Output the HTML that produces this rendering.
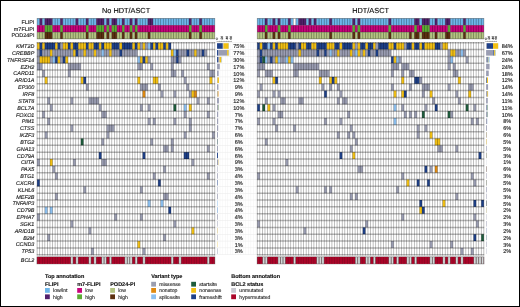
<!DOCTYPE html>
<html lang="en">
<head>
<meta charset="utf-8">
<title>Oncoprint: No HDT/ASCT vs HDT/ASCT</title>
<style>
html,body{margin:0;padding:0;background:#fff;}
#fig{position:relative;width:520px;height:307px;overflow:hidden;background:#fff;}
#fig svg{position:absolute;left:0;top:0;display:block;}
#fig text{font-family:"Liberation Sans",Arial,Helvetica,sans-serif;text-rendering:geometricPrecision;stroke:#222;stroke-width:0.14px;}
#frame{position:absolute;left:0;top:0;width:520px;height:307px;box-sizing:border-box;border:1px solid #000;pointer-events:none;}
</style>
</head>
<body>
<div id="fig">
<svg width="520" height="307" viewBox="0 0 520 307" role="img" aria-label="Oncoprint of gene mutations in No HDT/ASCT and HDT/ASCT cohorts">
<g>
<rect x="215.50" y="42.55" width="41.50" height="0.4" fill="#e4e4e4"/>
<rect x="215.50" y="49.39" width="41.50" height="0.4" fill="#e4e4e4"/>
<rect x="215.50" y="56.23" width="41.50" height="0.4" fill="#e4e4e4"/>
<rect x="215.50" y="63.06" width="41.50" height="0.4" fill="#e4e4e4"/>
<rect x="215.50" y="69.90" width="41.50" height="0.4" fill="#e4e4e4"/>
<rect x="215.50" y="76.74" width="41.50" height="0.4" fill="#e4e4e4"/>
<rect x="215.50" y="83.58" width="41.50" height="0.4" fill="#e4e4e4"/>
<rect x="215.50" y="90.42" width="41.50" height="0.4" fill="#e4e4e4"/>
<rect x="215.50" y="97.25" width="41.50" height="0.4" fill="#e4e4e4"/>
<rect x="215.50" y="104.09" width="41.50" height="0.4" fill="#e4e4e4"/>
<rect x="215.50" y="110.93" width="41.50" height="0.4" fill="#e4e4e4"/>
<rect x="215.50" y="117.77" width="41.50" height="0.4" fill="#e4e4e4"/>
<rect x="215.50" y="124.61" width="41.50" height="0.4" fill="#e4e4e4"/>
<rect x="215.50" y="131.44" width="41.50" height="0.4" fill="#e4e4e4"/>
<rect x="215.50" y="138.28" width="41.50" height="0.4" fill="#e4e4e4"/>
<rect x="215.50" y="145.12" width="41.50" height="0.4" fill="#e4e4e4"/>
<rect x="215.50" y="151.96" width="41.50" height="0.4" fill="#e4e4e4"/>
<rect x="215.50" y="158.80" width="41.50" height="0.4" fill="#e4e4e4"/>
<rect x="215.50" y="165.63" width="41.50" height="0.4" fill="#e4e4e4"/>
<rect x="215.50" y="172.47" width="41.50" height="0.4" fill="#e4e4e4"/>
<rect x="215.50" y="179.31" width="41.50" height="0.4" fill="#e4e4e4"/>
<rect x="215.50" y="186.15" width="41.50" height="0.4" fill="#e4e4e4"/>
<rect x="215.50" y="192.99" width="41.50" height="0.4" fill="#e4e4e4"/>
<rect x="215.50" y="199.82" width="41.50" height="0.4" fill="#e4e4e4"/>
<rect x="215.50" y="206.66" width="41.50" height="0.4" fill="#e4e4e4"/>
<rect x="215.50" y="213.50" width="41.50" height="0.4" fill="#e4e4e4"/>
<rect x="215.50" y="220.34" width="41.50" height="0.4" fill="#e4e4e4"/>
<rect x="215.50" y="227.18" width="41.50" height="0.4" fill="#e4e4e4"/>
<rect x="215.50" y="234.01" width="41.50" height="0.4" fill="#e4e4e4"/>
<rect x="215.50" y="240.85" width="41.50" height="0.4" fill="#e4e4e4"/>
<rect x="215.50" y="247.69" width="41.50" height="0.4" fill="#e4e4e4"/>
<rect x="215.50" y="254.53" width="41.50" height="0.4" fill="#e4e4e4"/>
<rect x="217.27" y="42.75" width="0.3" height="211.98" fill="#ececec"/>
<rect x="219.85" y="42.75" width="0.3" height="211.98" fill="#ececec"/>
<rect x="222.42" y="42.75" width="0.3" height="211.98" fill="#ececec"/>
<rect x="225.00" y="42.75" width="0.3" height="211.98" fill="#ececec"/>
<rect x="227.57" y="42.75" width="0.3" height="211.98" fill="#ececec"/>
<rect x="230.15" y="42.75" width="0.3" height="211.98" fill="#ececec"/>
<rect x="232.72" y="42.75" width="0.3" height="211.98" fill="#ececec"/>
<rect x="235.30" y="42.75" width="0.3" height="211.98" fill="#ececec"/>
<rect x="237.88" y="42.75" width="0.3" height="211.98" fill="#ececec"/>
<rect x="240.45" y="42.75" width="0.3" height="211.98" fill="#ececec"/>
<rect x="243.03" y="42.75" width="0.3" height="211.98" fill="#ececec"/>
<rect x="245.60" y="42.75" width="0.3" height="211.98" fill="#ececec"/>
<rect x="248.17" y="42.75" width="0.3" height="211.98" fill="#ececec"/>
<rect x="250.75" y="42.75" width="0.3" height="211.98" fill="#ececec"/>
<rect x="253.32" y="42.75" width="0.3" height="211.98" fill="#ececec"/>
<rect x="255.90" y="42.75" width="0.3" height="211.98" fill="#ececec"/>
<rect x="37.1" y="18.4" width="177.68" height="20.51" fill="#ffffff"/>
<rect x="37.1" y="18.4" width="2.58" height="6.84" fill="#6db6ea"/>
<rect x="39.68" y="18.4" width="2.58" height="6.84" fill="#52206c"/>
<rect x="42.25" y="18.4" width="2.58" height="6.84" fill="#6db6ea"/>
<rect x="44.83" y="18.4" width="7.73" height="6.84" fill="#52206c"/>
<rect x="52.55" y="18.4" width="7.73" height="6.84" fill="#6db6ea"/>
<rect x="60.28" y="18.4" width="2.58" height="6.84" fill="#52206c"/>
<rect x="62.85" y="18.4" width="12.88" height="6.84" fill="#6db6ea"/>
<rect x="75.72" y="18.4" width="2.58" height="6.84" fill="#52206c"/>
<rect x="78.3" y="18.4" width="7.73" height="6.84" fill="#6db6ea"/>
<rect x="86.03" y="18.4" width="2.58" height="6.84" fill="#52206c"/>
<rect x="88.6" y="18.4" width="7.73" height="6.84" fill="#6db6ea"/>
<rect x="96.33" y="18.4" width="7.73" height="6.84" fill="#52206c"/>
<rect x="104.05" y="18.4" width="2.58" height="6.84" fill="#6db6ea"/>
<rect x="106.62" y="18.4" width="2.58" height="6.84" fill="#52206c"/>
<rect x="109.2" y="18.4" width="2.58" height="6.84" fill="#6db6ea"/>
<rect x="111.78" y="18.4" width="5.15" height="6.84" fill="#52206c"/>
<rect x="116.93" y="18.4" width="5.15" height="6.84" fill="#6db6ea"/>
<rect x="122.08" y="18.4" width="2.58" height="6.84" fill="#52206c"/>
<rect x="124.65" y="18.4" width="5.15" height="6.84" fill="#6db6ea"/>
<rect x="129.8" y="18.4" width="2.58" height="6.84" fill="#52206c"/>
<rect x="132.38" y="18.4" width="2.58" height="6.84" fill="#6db6ea"/>
<rect x="134.95" y="18.4" width="2.58" height="6.84" fill="#52206c"/>
<rect x="137.53" y="18.4" width="10.3" height="6.84" fill="#6db6ea"/>
<rect x="147.83" y="18.4" width="5.15" height="6.84" fill="#52206c"/>
<rect x="152.98" y="18.4" width="36.05" height="6.84" fill="#6db6ea"/>
<rect x="189.03" y="18.4" width="2.58" height="6.84" fill="#52206c"/>
<rect x="191.6" y="18.4" width="7.73" height="6.84" fill="#6db6ea"/>
<rect x="199.33" y="18.4" width="2.58" height="6.84" fill="#52206c"/>
<rect x="201.9" y="18.4" width="12.88" height="6.84" fill="#6db6ea"/>
<rect x="37.1" y="25.24" width="7.73" height="6.84" fill="#c8047c"/>
<rect x="44.83" y="25.24" width="7.73" height="6.84" fill="#5cac34"/>
<rect x="52.55" y="25.24" width="7.73" height="6.84" fill="#c8047c"/>
<rect x="60.28" y="25.24" width="2.58" height="6.84" fill="#5cac34"/>
<rect x="62.85" y="25.24" width="23.18" height="6.84" fill="#c8047c"/>
<rect x="86.03" y="25.24" width="2.58" height="6.84" fill="#5cac34"/>
<rect x="88.6" y="25.24" width="7.73" height="6.84" fill="#c8047c"/>
<rect x="96.33" y="25.24" width="7.73" height="6.84" fill="#5cac34"/>
<rect x="104.05" y="25.24" width="2.58" height="6.84" fill="#c8047c"/>
<rect x="106.62" y="25.24" width="2.58" height="6.84" fill="#5cac34"/>
<rect x="109.2" y="25.24" width="2.58" height="6.84" fill="#c8047c"/>
<rect x="111.78" y="25.24" width="5.15" height="6.84" fill="#5cac34"/>
<rect x="116.93" y="25.24" width="5.15" height="6.84" fill="#c8047c"/>
<rect x="122.08" y="25.24" width="2.58" height="6.84" fill="#5cac34"/>
<rect x="124.65" y="25.24" width="5.15" height="6.84" fill="#c8047c"/>
<rect x="129.8" y="25.24" width="2.58" height="6.84" fill="#5cac34"/>
<rect x="132.38" y="25.24" width="2.58" height="6.84" fill="#c8047c"/>
<rect x="134.95" y="25.24" width="2.58" height="6.84" fill="#5cac34"/>
<rect x="137.53" y="25.24" width="51.5" height="6.84" fill="#c8047c"/>
<rect x="189.03" y="25.24" width="2.58" height="6.84" fill="#5cac34"/>
<rect x="191.6" y="25.24" width="7.73" height="6.84" fill="#c8047c"/>
<rect x="199.33" y="25.24" width="2.58" height="6.84" fill="#5cac34"/>
<rect x="201.9" y="25.24" width="12.88" height="6.84" fill="#c8047c"/>
<rect x="37.1" y="32.08" width="7.73" height="6.84" fill="#b4c482"/>
<rect x="44.83" y="32.08" width="7.73" height="6.84" fill="#5c3010"/>
<rect x="52.55" y="32.08" width="7.73" height="6.84" fill="#b4c482"/>
<rect x="60.28" y="32.08" width="2.58" height="6.84" fill="#5c3010"/>
<rect x="62.85" y="32.08" width="23.18" height="6.84" fill="#b4c482"/>
<rect x="86.03" y="32.08" width="2.58" height="6.84" fill="#5c3010"/>
<rect x="88.6" y="32.08" width="7.73" height="6.84" fill="#b4c482"/>
<rect x="96.33" y="32.08" width="7.73" height="6.84" fill="#5c3010"/>
<rect x="104.05" y="32.08" width="2.58" height="6.84" fill="#b4c482"/>
<rect x="106.62" y="32.08" width="2.58" height="6.84" fill="#5c3010"/>
<rect x="109.2" y="32.08" width="2.58" height="6.84" fill="#b4c482"/>
<rect x="111.78" y="32.08" width="5.15" height="6.84" fill="#5c3010"/>
<rect x="116.93" y="32.08" width="5.15" height="6.84" fill="#b4c482"/>
<rect x="122.08" y="32.08" width="2.58" height="6.84" fill="#5c3010"/>
<rect x="124.65" y="32.08" width="5.15" height="6.84" fill="#b4c482"/>
<rect x="129.8" y="32.08" width="2.58" height="6.84" fill="#5c3010"/>
<rect x="132.38" y="32.08" width="2.58" height="6.84" fill="#b4c482"/>
<rect x="134.95" y="32.08" width="2.58" height="6.84" fill="#5c3010"/>
<rect x="137.53" y="32.08" width="10.3" height="6.84" fill="#b4c482"/>
<rect x="147.83" y="32.08" width="2.58" height="6.84" fill="#5c3010"/>
<rect x="150.4" y="32.08" width="38.62" height="6.84" fill="#b4c482"/>
<rect x="189.03" y="32.08" width="2.58" height="6.84" fill="#5c3010"/>
<rect x="191.6" y="32.08" width="7.73" height="6.84" fill="#b4c482"/>
<rect x="199.33" y="32.08" width="2.58" height="6.84" fill="#5c3010"/>
<rect x="201.9" y="32.08" width="12.88" height="6.84" fill="#b4c482"/>
<rect x="257.25" y="18.4" width="226.6" height="20.51" fill="#ffffff"/>
<rect x="257.25" y="18.4" width="7.73" height="6.84" fill="#6db6ea"/>
<rect x="264.98" y="18.4" width="2.58" height="6.84" fill="#52206c"/>
<rect x="267.55" y="18.4" width="5.15" height="6.84" fill="#6db6ea"/>
<rect x="272.7" y="18.4" width="2.58" height="6.84" fill="#52206c"/>
<rect x="275.27" y="18.4" width="2.58" height="6.84" fill="#6db6ea"/>
<rect x="277.85" y="18.4" width="2.58" height="6.84" fill="#52206c"/>
<rect x="280.43" y="18.4" width="7.73" height="6.84" fill="#6db6ea"/>
<rect x="288.15" y="18.4" width="2.58" height="6.84" fill="#52206c"/>
<rect x="290.73" y="18.4" width="2.58" height="6.84" fill="#6db6ea"/>
<rect x="293.3" y="18.4" width="2.58" height="6.84" fill="#ffffff"/>
<rect x="295.88" y="18.4" width="2.58" height="6.84" fill="#6db6ea"/>
<rect x="298.45" y="18.4" width="7.73" height="6.84" fill="#52206c"/>
<rect x="306.18" y="18.4" width="2.58" height="6.84" fill="#6db6ea"/>
<rect x="308.75" y="18.4" width="2.58" height="6.84" fill="#52206c"/>
<rect x="311.32" y="18.4" width="2.58" height="6.84" fill="#6db6ea"/>
<rect x="313.9" y="18.4" width="2.58" height="6.84" fill="#52206c"/>
<rect x="316.48" y="18.4" width="12.88" height="6.84" fill="#6db6ea"/>
<rect x="329.35" y="18.4" width="2.58" height="6.84" fill="#52206c"/>
<rect x="331.93" y="18.4" width="20.6" height="6.84" fill="#6db6ea"/>
<rect x="352.52" y="18.4" width="2.58" height="6.84" fill="#52206c"/>
<rect x="355.1" y="18.4" width="2.58" height="6.84" fill="#6db6ea"/>
<rect x="357.68" y="18.4" width="2.58" height="6.84" fill="#52206c"/>
<rect x="360.25" y="18.4" width="28.33" height="6.84" fill="#6db6ea"/>
<rect x="388.58" y="18.4" width="2.58" height="6.84" fill="#52206c"/>
<rect x="391.15" y="18.4" width="23.18" height="6.84" fill="#6db6ea"/>
<rect x="414.33" y="18.4" width="5.15" height="6.84" fill="#52206c"/>
<rect x="419.48" y="18.4" width="2.58" height="6.84" fill="#6db6ea"/>
<rect x="422.05" y="18.4" width="7.73" height="6.84" fill="#52206c"/>
<rect x="429.77" y="18.4" width="5.15" height="6.84" fill="#6db6ea"/>
<rect x="434.93" y="18.4" width="2.58" height="6.84" fill="#52206c"/>
<rect x="437.5" y="18.4" width="7.73" height="6.84" fill="#6db6ea"/>
<rect x="445.23" y="18.4" width="5.15" height="6.84" fill="#52206c"/>
<rect x="450.38" y="18.4" width="12.88" height="6.84" fill="#6db6ea"/>
<rect x="463.25" y="18.4" width="2.58" height="6.84" fill="#52206c"/>
<rect x="465.83" y="18.4" width="18.03" height="6.84" fill="#6db6ea"/>
<rect x="257.25" y="25.24" width="7.73" height="6.84" fill="#c8047c"/>
<rect x="264.98" y="25.24" width="2.58" height="6.84" fill="#5cac34"/>
<rect x="267.55" y="25.24" width="10.3" height="6.84" fill="#c8047c"/>
<rect x="277.85" y="25.24" width="2.58" height="6.84" fill="#5cac34"/>
<rect x="280.43" y="25.24" width="7.73" height="6.84" fill="#c8047c"/>
<rect x="288.15" y="25.24" width="2.58" height="6.84" fill="#5cac34"/>
<rect x="290.73" y="25.24" width="61.8" height="6.84" fill="#c8047c"/>
<rect x="352.52" y="25.24" width="2.58" height="6.84" fill="#5cac34"/>
<rect x="355.1" y="25.24" width="2.58" height="6.84" fill="#c8047c"/>
<rect x="357.68" y="25.24" width="2.58" height="6.84" fill="#5cac34"/>
<rect x="360.25" y="25.24" width="28.33" height="6.84" fill="#c8047c"/>
<rect x="388.58" y="25.24" width="2.58" height="6.84" fill="#5cac34"/>
<rect x="391.15" y="25.24" width="23.18" height="6.84" fill="#c8047c"/>
<rect x="414.33" y="25.24" width="2.58" height="6.84" fill="#5cac34"/>
<rect x="416.9" y="25.24" width="5.15" height="6.84" fill="#c8047c"/>
<rect x="422.05" y="25.24" width="7.73" height="6.84" fill="#5cac34"/>
<rect x="429.77" y="25.24" width="18.03" height="6.84" fill="#c8047c"/>
<rect x="447.8" y="25.24" width="2.58" height="6.84" fill="#5cac34"/>
<rect x="450.38" y="25.24" width="12.88" height="6.84" fill="#c8047c"/>
<rect x="463.25" y="25.24" width="2.58" height="6.84" fill="#5cac34"/>
<rect x="465.83" y="25.24" width="18.03" height="6.84" fill="#c8047c"/>
<rect x="257.25" y="32.08" width="7.73" height="6.84" fill="#b4c482"/>
<rect x="264.98" y="32.08" width="2.58" height="6.84" fill="#5c3010"/>
<rect x="267.55" y="32.08" width="5.15" height="6.84" fill="#b4c482"/>
<rect x="272.7" y="32.08" width="2.58" height="6.84" fill="#5c3010"/>
<rect x="275.27" y="32.08" width="2.58" height="6.84" fill="#b4c482"/>
<rect x="277.85" y="32.08" width="2.58" height="6.84" fill="#5c3010"/>
<rect x="280.43" y="32.08" width="7.73" height="6.84" fill="#b4c482"/>
<rect x="288.15" y="32.08" width="2.58" height="6.84" fill="#5c3010"/>
<rect x="290.73" y="32.08" width="38.62" height="6.84" fill="#b4c482"/>
<rect x="329.35" y="32.08" width="2.58" height="6.84" fill="#5c3010"/>
<rect x="331.93" y="32.08" width="20.6" height="6.84" fill="#b4c482"/>
<rect x="352.52" y="32.08" width="2.58" height="6.84" fill="#5c3010"/>
<rect x="355.1" y="32.08" width="2.58" height="6.84" fill="#b4c482"/>
<rect x="357.68" y="32.08" width="2.58" height="6.84" fill="#5c3010"/>
<rect x="360.25" y="32.08" width="28.33" height="6.84" fill="#b4c482"/>
<rect x="388.58" y="32.08" width="2.58" height="6.84" fill="#5c3010"/>
<rect x="391.15" y="32.08" width="18.03" height="6.84" fill="#b4c482"/>
<rect x="409.18" y="32.08" width="2.58" height="6.84" fill="#5c3010"/>
<rect x="411.75" y="32.08" width="2.58" height="6.84" fill="#b4c482"/>
<rect x="414.33" y="32.08" width="5.15" height="6.84" fill="#5c3010"/>
<rect x="419.48" y="32.08" width="2.58" height="6.84" fill="#b4c482"/>
<rect x="422.05" y="32.08" width="7.73" height="6.84" fill="#5c3010"/>
<rect x="429.77" y="32.08" width="5.15" height="6.84" fill="#b4c482"/>
<rect x="434.93" y="32.08" width="2.58" height="6.84" fill="#5c3010"/>
<rect x="437.5" y="32.08" width="7.73" height="6.84" fill="#b4c482"/>
<rect x="445.23" y="32.08" width="5.15" height="6.84" fill="#5c3010"/>
<rect x="450.38" y="32.08" width="12.88" height="6.84" fill="#b4c482"/>
<rect x="463.25" y="32.08" width="2.58" height="6.84" fill="#5c3010"/>
<rect x="465.83" y="32.08" width="18.03" height="6.84" fill="#b4c482"/>
<rect x="37.1" y="42.75" width="177.68" height="211.98" fill="#ffffff"/>
<rect x="37.1" y="42.75" width="2.58" height="6.84" fill="#f2c014"/>
<rect x="39.68" y="42.75" width="2.58" height="6.84" fill="#1e4088"/>
<rect x="42.25" y="42.75" width="2.58" height="6.84" fill="#f2c014"/>
<rect x="44.83" y="42.75" width="10.3" height="6.84" fill="#1e4088"/>
<rect x="55.12" y="42.75" width="2.58" height="6.84" fill="#f2c014"/>
<rect x="57.7" y="42.75" width="2.58" height="6.84" fill="#1e4088"/>
<rect x="60.28" y="42.75" width="2.58" height="6.84" fill="#9a9db2"/>
<rect x="62.85" y="42.75" width="5.15" height="6.84" fill="#f2c014"/>
<rect x="68" y="42.75" width="2.58" height="6.84" fill="#1e4088"/>
<rect x="70.58" y="42.75" width="2.58" height="6.84" fill="#f2c014"/>
<rect x="73.15" y="42.75" width="5.15" height="6.84" fill="#1e4088"/>
<rect x="78.3" y="42.75" width="7.73" height="6.84" fill="#f2c014"/>
<rect x="86.03" y="42.75" width="2.58" height="6.84" fill="#1e4088"/>
<rect x="88.6" y="42.75" width="5.15" height="6.84" fill="#f2c014"/>
<rect x="93.75" y="42.75" width="5.15" height="6.84" fill="#1e4088"/>
<rect x="98.9" y="42.75" width="2.58" height="6.84" fill="#f2c014"/>
<rect x="101.47" y="42.75" width="2.58" height="6.84" fill="#1e4088"/>
<rect x="104.05" y="42.75" width="7.73" height="6.84" fill="#f2c014"/>
<rect x="111.78" y="42.75" width="7.73" height="6.84" fill="#1e4088"/>
<rect x="119.5" y="42.75" width="2.58" height="6.84" fill="#f2c014"/>
<rect x="122.08" y="42.75" width="10.3" height="6.84" fill="#1e4088"/>
<rect x="132.38" y="42.75" width="2.58" height="6.84" fill="#f2c014"/>
<rect x="134.95" y="42.75" width="2.58" height="6.84" fill="#1e4088"/>
<rect x="137.53" y="42.75" width="2.58" height="6.84" fill="#f2c014"/>
<rect x="140.1" y="42.75" width="2.58" height="6.84" fill="#9a9db2"/>
<rect x="142.68" y="42.75" width="2.58" height="6.84" fill="#f2c014"/>
<rect x="145.25" y="42.75" width="2.58" height="6.84" fill="#9a9db2"/>
<rect x="147.83" y="42.75" width="2.58" height="6.84" fill="#8cc0f0"/>
<rect x="150.4" y="42.75" width="2.58" height="6.84" fill="#1e4088"/>
<rect x="152.98" y="42.75" width="2.58" height="6.84" fill="#f2c014"/>
<rect x="155.55" y="42.75" width="2.58" height="6.84" fill="#1e4088"/>
<rect x="158.12" y="42.75" width="5.15" height="6.84" fill="#f2c014"/>
<rect x="163.28" y="42.75" width="2.58" height="6.84" fill="#1e4088"/>
<rect x="165.85" y="42.75" width="2.58" height="6.84" fill="#f2c014"/>
<rect x="168.43" y="42.75" width="2.58" height="6.84" fill="#1e4088"/>
<rect x="217.05" y="43.2" width="5.74" height="5.59" fill="#1e4088"/>
<rect x="222.79" y="43.2" width="0.69" height="5.59" fill="#9a9db2"/>
<rect x="223.48" y="43.2" width="5.28" height="5.59" fill="#f2c014"/>
<rect x="228.76" y="43.2" width="0.23" height="5.59" fill="#8cc0f0"/>
<rect x="37.1" y="49.59" width="2.58" height="6.84" fill="#9a9db2"/>
<rect x="39.68" y="49.59" width="2.58" height="6.84" fill="#1e4088"/>
<rect x="42.25" y="49.59" width="7.73" height="6.84" fill="#9a9db2"/>
<rect x="49.98" y="49.59" width="2.58" height="6.84" fill="#f2c014"/>
<rect x="52.55" y="49.59" width="20.6" height="6.84" fill="#9a9db2"/>
<rect x="73.15" y="49.59" width="2.58" height="6.84" fill="#f2c014"/>
<rect x="75.72" y="49.59" width="2.58" height="6.84" fill="#1e4088"/>
<rect x="78.3" y="49.59" width="5.15" height="6.84" fill="#9a9db2"/>
<rect x="83.45" y="49.59" width="2.58" height="6.84" fill="#f2c014"/>
<rect x="86.03" y="49.59" width="7.73" height="6.84" fill="#9a9db2"/>
<rect x="93.75" y="49.59" width="2.58" height="6.84" fill="#f2c014"/>
<rect x="96.33" y="49.59" width="5.15" height="6.84" fill="#9a9db2"/>
<rect x="101.47" y="49.59" width="2.58" height="6.84" fill="#8cc0f0"/>
<rect x="104.05" y="49.59" width="5.15" height="6.84" fill="#9a9db2"/>
<rect x="109.2" y="49.59" width="2.58" height="6.84" fill="#f2c014"/>
<rect x="111.78" y="49.59" width="7.73" height="6.84" fill="#9a9db2"/>
<rect x="119.5" y="49.59" width="2.58" height="6.84" fill="#1e4088"/>
<rect x="122.08" y="49.59" width="15.45" height="6.84" fill="#9a9db2"/>
<rect x="171" y="49.59" width="2.58" height="6.84" fill="#f2c014"/>
<rect x="173.58" y="49.59" width="2.58" height="6.84" fill="#8cc0f0"/>
<rect x="176.15" y="49.59" width="2.58" height="6.84" fill="#1e4088"/>
<rect x="178.72" y="49.59" width="7.73" height="6.84" fill="#9a9db2"/>
<rect x="186.45" y="49.59" width="2.58" height="6.84" fill="#1e4088"/>
<rect x="189.03" y="49.59" width="5.15" height="6.84" fill="#9a9db2"/>
<rect x="194.18" y="49.59" width="2.58" height="6.84" fill="#f2c014"/>
<rect x="196.75" y="49.59" width="5.15" height="6.84" fill="#9a9db2"/>
<rect x="201.9" y="49.59" width="2.58" height="6.84" fill="#1e4088"/>
<rect x="204.47" y="49.59" width="2.58" height="6.84" fill="#9a9db2"/>
<rect x="217.05" y="50.04" width="1.38" height="5.59" fill="#1e4088"/>
<rect x="218.43" y="50.04" width="8.73" height="5.59" fill="#9a9db2"/>
<rect x="227.15" y="50.04" width="1.61" height="5.59" fill="#f2c014"/>
<rect x="228.76" y="50.04" width="0.46" height="5.59" fill="#8cc0f0"/>
<rect x="37.1" y="56.43" width="2.58" height="6.84" fill="#9a9db2"/>
<rect x="39.68" y="56.43" width="10.3" height="6.84" fill="#f2c014"/>
<rect x="49.98" y="56.43" width="2.58" height="6.84" fill="#9a9db2"/>
<rect x="52.55" y="56.43" width="2.58" height="6.84" fill="#8cc0f0"/>
<rect x="55.12" y="56.43" width="2.58" height="6.84" fill="#1e4088"/>
<rect x="57.7" y="56.43" width="2.58" height="6.84" fill="#f2c014"/>
<rect x="60.28" y="56.43" width="2.58" height="6.84" fill="#9a9db2"/>
<rect x="62.85" y="56.43" width="2.58" height="6.84" fill="#1e4088"/>
<rect x="65.43" y="56.43" width="2.58" height="6.84" fill="#f2c014"/>
<rect x="137.53" y="56.43" width="2.58" height="6.84" fill="#8cc0f0"/>
<rect x="140.1" y="56.43" width="2.58" height="6.84" fill="#f2c014"/>
<rect x="142.68" y="56.43" width="2.58" height="6.84" fill="#1e4088"/>
<rect x="145.25" y="56.43" width="2.58" height="6.84" fill="#f2c014"/>
<rect x="147.83" y="56.43" width="2.58" height="6.84" fill="#9a9db2"/>
<rect x="171" y="56.43" width="5.15" height="6.84" fill="#9a9db2"/>
<rect x="176.15" y="56.43" width="2.58" height="6.84" fill="#1e4088"/>
<rect x="178.72" y="56.43" width="2.58" height="6.84" fill="#9a9db2"/>
<rect x="217.05" y="56.88" width="0.92" height="5.59" fill="#1e4088"/>
<rect x="217.97" y="56.88" width="1.61" height="5.59" fill="#9a9db2"/>
<rect x="219.58" y="56.88" width="1.84" height="5.59" fill="#f2c014"/>
<rect x="221.41" y="56.88" width="0.46" height="5.59" fill="#8cc0f0"/>
<rect x="37.1" y="63.26" width="5.15" height="6.84" fill="#9a9db2"/>
<rect x="68" y="63.26" width="12.88" height="6.84" fill="#9a9db2"/>
<rect x="137.53" y="63.26" width="5.15" height="6.84" fill="#9a9db2"/>
<rect x="150.4" y="63.26" width="2.58" height="6.84" fill="#9a9db2"/>
<rect x="171" y="63.26" width="2.58" height="6.84" fill="#9a9db2"/>
<rect x="207.05" y="63.26" width="2.58" height="6.84" fill="#9a9db2"/>
<rect x="217.05" y="63.71" width="2.76" height="5.59" fill="#9a9db2"/>
<rect x="42.25" y="70.1" width="2.58" height="6.84" fill="#9a9db2"/>
<rect x="68" y="70.1" width="2.58" height="6.84" fill="#9a9db2"/>
<rect x="171" y="70.1" width="5.15" height="6.84" fill="#9a9db2"/>
<rect x="181.3" y="70.1" width="2.58" height="6.84" fill="#9a9db2"/>
<rect x="209.62" y="70.1" width="5.15" height="6.84" fill="#9a9db2"/>
<rect x="217.05" y="70.55" width="1.61" height="5.59" fill="#9a9db2"/>
<rect x="44.83" y="76.94" width="2.58" height="6.84" fill="#f2c014"/>
<rect x="80.88" y="76.94" width="2.58" height="6.84" fill="#f2c014"/>
<rect x="83.45" y="76.94" width="2.58" height="6.84" fill="#1e4088"/>
<rect x="137.53" y="76.94" width="2.58" height="6.84" fill="#f2c014"/>
<rect x="152.98" y="76.94" width="5.15" height="6.84" fill="#f2c014"/>
<rect x="183.88" y="76.94" width="2.58" height="6.84" fill="#9a9db2"/>
<rect x="209.62" y="76.94" width="2.58" height="6.84" fill="#f2c014"/>
<rect x="217.05" y="77.39" width="0.23" height="5.59" fill="#1e4088"/>
<rect x="217.28" y="77.39" width="0.23" height="5.59" fill="#9a9db2"/>
<rect x="217.51" y="77.39" width="1.38" height="5.59" fill="#f2c014"/>
<rect x="86.03" y="83.78" width="2.58" height="6.84" fill="#9a9db2"/>
<rect x="140.1" y="83.78" width="7.73" height="6.84" fill="#9a9db2"/>
<rect x="158.12" y="83.78" width="2.58" height="6.84" fill="#9a9db2"/>
<rect x="186.45" y="83.78" width="2.58" height="6.84" fill="#9a9db2"/>
<rect x="217.05" y="84.23" width="1.38" height="5.59" fill="#9a9db2"/>
<rect x="142.68" y="90.62" width="2.58" height="6.84" fill="#e08a10"/>
<rect x="160.7" y="90.62" width="2.58" height="6.84" fill="#9a9db2"/>
<rect x="173.58" y="90.62" width="2.58" height="6.84" fill="#9a9db2"/>
<rect x="189.03" y="90.62" width="2.58" height="6.84" fill="#9a9db2"/>
<rect x="191.6" y="90.62" width="2.58" height="6.84" fill="#f2c014"/>
<rect x="194.18" y="90.62" width="2.58" height="6.84" fill="#e08a10"/>
<rect x="217.05" y="91.07" width="0.69" height="5.59" fill="#9a9db2"/>
<rect x="217.74" y="91.07" width="0.23" height="5.59" fill="#f2c014"/>
<rect x="217.97" y="91.07" width="0.46" height="5.59" fill="#e08a10"/>
<rect x="47.4" y="97.45" width="2.58" height="6.84" fill="#9a9db2"/>
<rect x="70.58" y="97.45" width="2.58" height="6.84" fill="#9a9db2"/>
<rect x="88.6" y="97.45" width="10.3" height="6.84" fill="#9a9db2"/>
<rect x="196.75" y="97.45" width="2.58" height="6.84" fill="#9a9db2"/>
<rect x="207.05" y="97.45" width="2.58" height="6.84" fill="#9a9db2"/>
<rect x="217.05" y="97.9" width="1.84" height="5.59" fill="#9a9db2"/>
<rect x="49.98" y="104.29" width="2.58" height="6.84" fill="#9a9db2"/>
<rect x="98.9" y="104.29" width="2.58" height="6.84" fill="#9a9db2"/>
<rect x="140.1" y="104.29" width="2.58" height="6.84" fill="#9a9db2"/>
<rect x="147.83" y="104.29" width="2.58" height="6.84" fill="#9a9db2"/>
<rect x="173.58" y="104.29" width="2.58" height="6.84" fill="#1e5c3c"/>
<rect x="183.88" y="104.29" width="2.58" height="6.84" fill="#8cc0f0"/>
<rect x="189.03" y="104.29" width="2.58" height="6.84" fill="#f2c014"/>
<rect x="217.05" y="104.74" width="0.92" height="5.59" fill="#9a9db2"/>
<rect x="217.97" y="104.74" width="0.23" height="5.59" fill="#f2c014"/>
<rect x="218.2" y="104.74" width="0.23" height="5.59" fill="#8cc0f0"/>
<rect x="218.43" y="104.74" width="0.23" height="5.59" fill="#1e5c3c"/>
<rect x="42.25" y="111.13" width="2.58" height="6.84" fill="#9a9db2"/>
<rect x="101.47" y="111.13" width="5.15" height="6.84" fill="#9a9db2"/>
<rect x="183.88" y="111.13" width="2.58" height="6.84" fill="#9a9db2"/>
<rect x="207.05" y="111.13" width="2.58" height="6.84" fill="#9a9db2"/>
<rect x="217.05" y="111.58" width="1.15" height="5.59" fill="#9a9db2"/>
<rect x="47.4" y="117.97" width="2.58" height="6.84" fill="#9a9db2"/>
<rect x="147.83" y="117.97" width="2.58" height="6.84" fill="#9a9db2"/>
<rect x="152.98" y="117.97" width="2.58" height="6.84" fill="#9a9db2"/>
<rect x="173.58" y="117.97" width="2.58" height="6.84" fill="#9a9db2"/>
<rect x="189.03" y="117.97" width="2.58" height="6.84" fill="#9a9db2"/>
<rect x="217.05" y="118.42" width="1.15" height="5.59" fill="#9a9db2"/>
<rect x="70.58" y="124.81" width="2.58" height="6.84" fill="#9a9db2"/>
<rect x="106.62" y="124.81" width="7.73" height="6.84" fill="#9a9db2"/>
<rect x="189.03" y="124.81" width="2.58" height="6.84" fill="#9a9db2"/>
<rect x="217.05" y="125.26" width="1.15" height="5.59" fill="#9a9db2"/>
<rect x="44.83" y="131.64" width="2.58" height="6.84" fill="#9a9db2"/>
<rect x="106.62" y="131.64" width="2.58" height="6.84" fill="#9a9db2"/>
<rect x="183.88" y="131.64" width="2.58" height="6.84" fill="#9a9db2"/>
<rect x="212.2" y="131.64" width="2.58" height="6.84" fill="#9a9db2"/>
<rect x="217.05" y="132.09" width="0.92" height="5.59" fill="#9a9db2"/>
<rect x="80.88" y="138.48" width="2.58" height="6.84" fill="#1e5c3c"/>
<rect x="101.47" y="138.48" width="2.58" height="6.84" fill="#9a9db2"/>
<rect x="150.4" y="138.48" width="2.58" height="6.84" fill="#9a9db2"/>
<rect x="171" y="138.48" width="2.58" height="6.84" fill="#9a9db2"/>
<rect x="217.05" y="138.93" width="0.69" height="5.59" fill="#9a9db2"/>
<rect x="217.74" y="138.93" width="0.23" height="5.59" fill="#1e5c3c"/>
<rect x="163.28" y="145.32" width="5.15" height="6.84" fill="#9a9db2"/>
<rect x="171" y="145.32" width="2.58" height="6.84" fill="#9a9db2"/>
<rect x="207.05" y="145.32" width="2.58" height="6.84" fill="#9a9db2"/>
<rect x="217.05" y="145.77" width="0.92" height="5.59" fill="#9a9db2"/>
<rect x="98.9" y="152.16" width="2.58" height="6.84" fill="#1e4088"/>
<rect x="142.68" y="152.16" width="2.58" height="6.84" fill="#1e4088"/>
<rect x="183.88" y="152.16" width="5.15" height="6.84" fill="#1e4088"/>
<rect x="217.05" y="152.61" width="0.92" height="5.59" fill="#1e4088"/>
<rect x="37.1" y="159" width="2.58" height="6.84" fill="#9a9db2"/>
<rect x="49.98" y="159" width="2.58" height="6.84" fill="#f2c014"/>
<rect x="73.15" y="159" width="2.58" height="6.84" fill="#9a9db2"/>
<rect x="101.47" y="159" width="5.15" height="6.84" fill="#9a9db2"/>
<rect x="191.6" y="159" width="2.58" height="6.84" fill="#9a9db2"/>
<rect x="217.05" y="159.45" width="1.15" height="5.59" fill="#9a9db2"/>
<rect x="218.2" y="159.45" width="0.23" height="5.59" fill="#f2c014"/>
<rect x="52.55" y="165.83" width="2.58" height="6.84" fill="#9a9db2"/>
<rect x="163.28" y="165.83" width="2.58" height="6.84" fill="#9a9db2"/>
<rect x="217.05" y="166.28" width="0.46" height="5.59" fill="#9a9db2"/>
<rect x="55.12" y="172.67" width="2.58" height="6.84" fill="#9a9db2"/>
<rect x="152.98" y="172.67" width="2.58" height="6.84" fill="#9a9db2"/>
<rect x="207.05" y="172.67" width="2.58" height="6.84" fill="#9a9db2"/>
<rect x="217.05" y="173.12" width="0.69" height="5.59" fill="#9a9db2"/>
<rect x="37.1" y="179.51" width="2.58" height="6.84" fill="#1e4088"/>
<rect x="158.12" y="179.51" width="2.58" height="6.84" fill="#1e4088"/>
<rect x="217.05" y="179.96" width="0.46" height="5.59" fill="#1e4088"/>
<rect x="83.45" y="186.35" width="2.58" height="6.84" fill="#9a9db2"/>
<rect x="140.1" y="186.35" width="2.58" height="6.84" fill="#9a9db2"/>
<rect x="217.05" y="186.8" width="0.46" height="5.59" fill="#9a9db2"/>
<rect x="55.12" y="193.19" width="2.58" height="6.84" fill="#9a9db2"/>
<rect x="163.28" y="193.19" width="5.15" height="6.84" fill="#9a9db2"/>
<rect x="217.05" y="193.64" width="0.69" height="5.59" fill="#9a9db2"/>
<rect x="147.83" y="200.02" width="2.58" height="6.84" fill="#8cc0f0"/>
<rect x="160.7" y="200.02" width="2.58" height="6.84" fill="#8cc0f0"/>
<rect x="217.05" y="200.47" width="0.46" height="5.59" fill="#8cc0f0"/>
<rect x="44.83" y="206.86" width="2.58" height="6.84" fill="#8cc0f0"/>
<rect x="49.98" y="206.86" width="2.58" height="6.84" fill="#8cc0f0"/>
<rect x="168.43" y="206.86" width="2.58" height="6.84" fill="#1e4088"/>
<rect x="217.05" y="207.31" width="0.23" height="5.59" fill="#1e4088"/>
<rect x="217.28" y="207.31" width="0.46" height="5.59" fill="#8cc0f0"/>
<rect x="37.1" y="213.7" width="2.58" height="6.84" fill="#9a9db2"/>
<rect x="114.35" y="213.7" width="2.58" height="6.84" fill="#9a9db2"/>
<rect x="140.1" y="213.7" width="2.58" height="6.84" fill="#9a9db2"/>
<rect x="217.05" y="214.15" width="0.69" height="5.59" fill="#9a9db2"/>
<rect x="70.58" y="220.54" width="2.58" height="6.84" fill="#9a9db2"/>
<rect x="173.58" y="220.54" width="2.58" height="6.84" fill="#9a9db2"/>
<rect x="217.05" y="220.99" width="0.46" height="5.59" fill="#9a9db2"/>
<rect x="88.6" y="227.38" width="2.58" height="6.84" fill="#9a9db2"/>
<rect x="191.6" y="227.38" width="2.58" height="6.84" fill="#f2c014"/>
<rect x="217.05" y="227.83" width="0.23" height="5.59" fill="#9a9db2"/>
<rect x="217.28" y="227.83" width="0.23" height="5.59" fill="#f2c014"/>
<rect x="47.4" y="234.21" width="2.58" height="6.84" fill="#9a9db2"/>
<rect x="163.28" y="234.21" width="2.58" height="6.84" fill="#9a9db2"/>
<rect x="217.05" y="234.66" width="0.46" height="5.59" fill="#9a9db2"/>
<rect x="137.53" y="241.05" width="2.58" height="6.84" fill="#f2c014"/>
<rect x="217.05" y="241.5" width="0.23" height="5.59" fill="#f2c014"/>
<rect x="91.18" y="247.89" width="2.58" height="6.84" fill="#9a9db2"/>
<rect x="142.68" y="247.89" width="2.58" height="6.84" fill="#9a9db2"/>
<rect x="217.05" y="248.34" width="0.46" height="5.59" fill="#9a9db2"/>
<rect x="257.25" y="42.75" width="226.6" height="211.98" fill="#ffffff"/>
<rect x="257.25" y="42.75" width="2.58" height="6.84" fill="#1e4088"/>
<rect x="259.82" y="42.75" width="2.58" height="6.84" fill="#f2c014"/>
<rect x="262.4" y="42.75" width="5.15" height="6.84" fill="#1e4088"/>
<rect x="267.55" y="42.75" width="2.58" height="6.84" fill="#8cc0f0"/>
<rect x="270.12" y="42.75" width="2.58" height="6.84" fill="#1e4088"/>
<rect x="272.7" y="42.75" width="2.58" height="6.84" fill="#f2c014"/>
<rect x="275.27" y="42.75" width="2.58" height="6.84" fill="#1e4088"/>
<rect x="277.85" y="42.75" width="10.3" height="6.84" fill="#f2c014"/>
<rect x="288.15" y="42.75" width="7.73" height="6.84" fill="#1e4088"/>
<rect x="295.88" y="42.75" width="2.58" height="6.84" fill="#9a9db2"/>
<rect x="298.45" y="42.75" width="2.58" height="6.84" fill="#1e4088"/>
<rect x="301.02" y="42.75" width="5.15" height="6.84" fill="#f2c014"/>
<rect x="306.18" y="42.75" width="5.15" height="6.84" fill="#1e4088"/>
<rect x="311.32" y="42.75" width="5.15" height="6.84" fill="#f2c014"/>
<rect x="316.48" y="42.75" width="10.3" height="6.84" fill="#1e4088"/>
<rect x="326.77" y="42.75" width="7.73" height="6.84" fill="#f2c014"/>
<rect x="334.5" y="42.75" width="5.15" height="6.84" fill="#1e4088"/>
<rect x="339.65" y="42.75" width="2.58" height="6.84" fill="#f2c014"/>
<rect x="342.23" y="42.75" width="10.3" height="6.84" fill="#1e4088"/>
<rect x="352.52" y="42.75" width="2.58" height="6.84" fill="#f2c014"/>
<rect x="355.1" y="42.75" width="2.58" height="6.84" fill="#9a9db2"/>
<rect x="357.68" y="42.75" width="2.58" height="6.84" fill="#f2c014"/>
<rect x="360.25" y="42.75" width="5.15" height="6.84" fill="#1e4088"/>
<rect x="365.4" y="42.75" width="2.58" height="6.84" fill="#f2c014"/>
<rect x="367.98" y="42.75" width="5.15" height="6.84" fill="#1e4088"/>
<rect x="373.12" y="42.75" width="2.58" height="6.84" fill="#f2c014"/>
<rect x="375.7" y="42.75" width="2.58" height="6.84" fill="#9a9db2"/>
<rect x="378.27" y="42.75" width="10.3" height="6.84" fill="#1e4088"/>
<rect x="388.58" y="42.75" width="5.15" height="6.84" fill="#f2c014"/>
<rect x="393.73" y="42.75" width="2.58" height="6.84" fill="#1e4088"/>
<rect x="396.3" y="42.75" width="7.73" height="6.84" fill="#f2c014"/>
<rect x="404.02" y="42.75" width="2.58" height="6.84" fill="#9a9db2"/>
<rect x="406.6" y="42.75" width="5.15" height="6.84" fill="#1e4088"/>
<rect x="411.75" y="42.75" width="2.58" height="6.84" fill="#f2c014"/>
<rect x="414.33" y="42.75" width="5.15" height="6.84" fill="#1e4088"/>
<rect x="419.48" y="42.75" width="2.58" height="6.84" fill="#f2c014"/>
<rect x="422.05" y="42.75" width="2.58" height="6.84" fill="#1e4088"/>
<rect x="424.62" y="42.75" width="10.3" height="6.84" fill="#f2c014"/>
<rect x="434.93" y="42.75" width="5.15" height="6.84" fill="#1e4088"/>
<rect x="440.08" y="42.75" width="2.58" height="6.84" fill="#9a9db2"/>
<rect x="442.65" y="42.75" width="5.15" height="6.84" fill="#f2c014"/>
<rect x="486.1" y="43.2" width="0.83" height="5.59" fill="#9a9db2"/>
<rect x="486.93" y="43.2" width="6.11" height="5.59" fill="#1e4088"/>
<rect x="493.03" y="43.2" width="5.12" height="5.59" fill="#f2c014"/>
<rect x="498.15" y="43.2" width="0.17" height="5.59" fill="#8cc0f0"/>
<rect x="257.25" y="49.59" width="2.58" height="6.84" fill="#9a9db2"/>
<rect x="259.82" y="49.59" width="2.58" height="6.84" fill="#1e4088"/>
<rect x="262.4" y="49.59" width="36.05" height="6.84" fill="#9a9db2"/>
<rect x="298.45" y="49.59" width="2.58" height="6.84" fill="#f2c014"/>
<rect x="301.02" y="49.59" width="15.45" height="6.84" fill="#9a9db2"/>
<rect x="316.48" y="49.59" width="2.58" height="6.84" fill="#1e4088"/>
<rect x="319.05" y="49.59" width="5.15" height="6.84" fill="#9a9db2"/>
<rect x="324.2" y="49.59" width="2.58" height="6.84" fill="#1e4088"/>
<rect x="326.77" y="49.59" width="2.58" height="6.84" fill="#9a9db2"/>
<rect x="329.35" y="49.59" width="2.58" height="6.84" fill="#8cc0f0"/>
<rect x="331.93" y="49.59" width="5.15" height="6.84" fill="#9a9db2"/>
<rect x="337.07" y="49.59" width="2.58" height="6.84" fill="#f2c014"/>
<rect x="339.65" y="49.59" width="10.3" height="6.84" fill="#9a9db2"/>
<rect x="349.95" y="49.59" width="2.58" height="6.84" fill="#f2c014"/>
<rect x="352.52" y="49.59" width="2.58" height="6.84" fill="#9a9db2"/>
<rect x="355.1" y="49.59" width="2.58" height="6.84" fill="#8cc0f0"/>
<rect x="357.68" y="49.59" width="2.58" height="6.84" fill="#f2c014"/>
<rect x="360.25" y="49.59" width="2.58" height="6.84" fill="#9a9db2"/>
<rect x="362.82" y="49.59" width="2.58" height="6.84" fill="#f2c014"/>
<rect x="365.4" y="49.59" width="2.58" height="6.84" fill="#9a9db2"/>
<rect x="367.98" y="49.59" width="2.58" height="6.84" fill="#1e4088"/>
<rect x="370.55" y="49.59" width="5.15" height="6.84" fill="#9a9db2"/>
<rect x="375.7" y="49.59" width="2.58" height="6.84" fill="#1e4088"/>
<rect x="378.27" y="49.59" width="12.88" height="6.84" fill="#9a9db2"/>
<rect x="447.8" y="49.59" width="2.58" height="6.84" fill="#9a9db2"/>
<rect x="450.38" y="49.59" width="5.15" height="6.84" fill="#f2c014"/>
<rect x="455.52" y="49.59" width="5.15" height="6.84" fill="#9a9db2"/>
<rect x="460.68" y="49.59" width="2.58" height="6.84" fill="#8cc0f0"/>
<rect x="463.25" y="49.59" width="2.58" height="6.84" fill="#9a9db2"/>
<rect x="486.1" y="50.04" width="7.26" height="5.59" fill="#9a9db2"/>
<rect x="493.36" y="50.04" width="0.83" height="5.59" fill="#1e4088"/>
<rect x="494.19" y="50.04" width="1.16" height="5.59" fill="#f2c014"/>
<rect x="495.34" y="50.04" width="0.5" height="5.59" fill="#8cc0f0"/>
<rect x="257.25" y="56.43" width="2.58" height="6.84" fill="#9a9db2"/>
<rect x="259.82" y="56.43" width="2.58" height="6.84" fill="#1e4088"/>
<rect x="262.4" y="56.43" width="2.58" height="6.84" fill="#1e5c3c"/>
<rect x="264.98" y="56.43" width="2.58" height="6.84" fill="#8cc0f0"/>
<rect x="267.55" y="56.43" width="2.58" height="6.84" fill="#9a9db2"/>
<rect x="270.12" y="56.43" width="2.58" height="6.84" fill="#1e4088"/>
<rect x="272.7" y="56.43" width="2.58" height="6.84" fill="#9a9db2"/>
<rect x="275.27" y="56.43" width="2.58" height="6.84" fill="#f2c014"/>
<rect x="277.85" y="56.43" width="2.58" height="6.84" fill="#8cc0f0"/>
<rect x="280.43" y="56.43" width="5.15" height="6.84" fill="#9a9db2"/>
<rect x="285.57" y="56.43" width="2.58" height="6.84" fill="#8cc0f0"/>
<rect x="288.15" y="56.43" width="2.58" height="6.84" fill="#f2c014"/>
<rect x="290.73" y="56.43" width="2.58" height="6.84" fill="#8cc0f0"/>
<rect x="391.15" y="56.43" width="2.58" height="6.84" fill="#1e4088"/>
<rect x="393.73" y="56.43" width="2.58" height="6.84" fill="#f2c014"/>
<rect x="396.3" y="56.43" width="2.58" height="6.84" fill="#8cc0f0"/>
<rect x="398.88" y="56.43" width="2.58" height="6.84" fill="#9a9db2"/>
<rect x="447.8" y="56.43" width="2.58" height="6.84" fill="#9a9db2"/>
<rect x="450.38" y="56.43" width="2.58" height="6.84" fill="#8cc0f0"/>
<rect x="465.83" y="56.43" width="2.58" height="6.84" fill="#9a9db2"/>
<rect x="486.1" y="56.88" width="1.32" height="5.59" fill="#9a9db2"/>
<rect x="487.42" y="56.88" width="0.5" height="5.59" fill="#1e4088"/>
<rect x="487.92" y="56.88" width="0.5" height="5.59" fill="#f2c014"/>
<rect x="488.41" y="56.88" width="0.17" height="5.59" fill="#1e5c3c"/>
<rect x="488.58" y="56.88" width="0.99" height="5.59" fill="#8cc0f0"/>
<rect x="257.25" y="63.26" width="7.73" height="6.84" fill="#9a9db2"/>
<rect x="293.3" y="63.26" width="25.75" height="6.84" fill="#9a9db2"/>
<rect x="391.15" y="63.26" width="7.73" height="6.84" fill="#9a9db2"/>
<rect x="401.45" y="63.26" width="7.73" height="6.84" fill="#9a9db2"/>
<rect x="447.8" y="63.26" width="2.58" height="6.84" fill="#9a9db2"/>
<rect x="452.95" y="63.26" width="2.58" height="6.84" fill="#9a9db2"/>
<rect x="486.1" y="63.71" width="3.47" height="5.59" fill="#9a9db2"/>
<rect x="257.25" y="70.1" width="2.58" height="6.84" fill="#9a9db2"/>
<rect x="264.98" y="70.1" width="7.73" height="6.84" fill="#9a9db2"/>
<rect x="293.3" y="70.1" width="5.15" height="6.84" fill="#9a9db2"/>
<rect x="319.05" y="70.1" width="10.3" height="6.84" fill="#9a9db2"/>
<rect x="391.15" y="70.1" width="2.58" height="6.84" fill="#9a9db2"/>
<rect x="401.45" y="70.1" width="2.58" height="6.84" fill="#9a9db2"/>
<rect x="409.18" y="70.1" width="5.15" height="6.84" fill="#9a9db2"/>
<rect x="452.95" y="70.1" width="5.15" height="6.84" fill="#9a9db2"/>
<rect x="486.1" y="70.55" width="2.64" height="5.59" fill="#9a9db2"/>
<rect x="272.7" y="76.94" width="2.58" height="6.84" fill="#f2c014"/>
<rect x="275.27" y="76.94" width="2.58" height="6.84" fill="#1e4088"/>
<rect x="319.05" y="76.94" width="2.58" height="6.84" fill="#f2c014"/>
<rect x="329.35" y="76.94" width="2.58" height="6.84" fill="#f2c014"/>
<rect x="331.93" y="76.94" width="2.58" height="6.84" fill="#1e4088"/>
<rect x="334.5" y="76.94" width="2.58" height="6.84" fill="#f2c014"/>
<rect x="401.45" y="76.94" width="2.58" height="6.84" fill="#f2c014"/>
<rect x="414.33" y="76.94" width="5.15" height="6.84" fill="#1e4088"/>
<rect x="419.48" y="76.94" width="2.58" height="6.84" fill="#9a9db2"/>
<rect x="458.1" y="76.94" width="2.58" height="6.84" fill="#f2c014"/>
<rect x="486.1" y="77.39" width="0.17" height="5.59" fill="#9a9db2"/>
<rect x="486.27" y="77.39" width="0.66" height="5.59" fill="#1e4088"/>
<rect x="486.93" y="77.39" width="0.99" height="5.59" fill="#f2c014"/>
<rect x="259.82" y="83.78" width="2.58" height="6.84" fill="#9a9db2"/>
<rect x="321.62" y="83.78" width="2.58" height="6.84" fill="#9a9db2"/>
<rect x="329.35" y="83.78" width="2.58" height="6.84" fill="#9a9db2"/>
<rect x="337.07" y="83.78" width="2.58" height="6.84" fill="#9a9db2"/>
<rect x="391.15" y="83.78" width="2.58" height="6.84" fill="#9a9db2"/>
<rect x="409.18" y="83.78" width="2.58" height="6.84" fill="#9a9db2"/>
<rect x="422.05" y="83.78" width="7.73" height="6.84" fill="#9a9db2"/>
<rect x="447.8" y="83.78" width="2.58" height="6.84" fill="#9a9db2"/>
<rect x="468.4" y="83.78" width="5.15" height="6.84" fill="#9a9db2"/>
<rect x="486.1" y="84.23" width="1.98" height="5.59" fill="#9a9db2"/>
<rect x="257.25" y="90.62" width="2.58" height="6.84" fill="#9a9db2"/>
<rect x="272.7" y="90.62" width="2.58" height="6.84" fill="#9a9db2"/>
<rect x="277.85" y="90.62" width="2.58" height="6.84" fill="#9a9db2"/>
<rect x="324.2" y="90.62" width="2.58" height="6.84" fill="#1e4088"/>
<rect x="339.65" y="90.62" width="2.58" height="6.84" fill="#9a9db2"/>
<rect x="393.73" y="90.62" width="2.58" height="6.84" fill="#f2c014"/>
<rect x="401.45" y="90.62" width="2.58" height="6.84" fill="#f2c014"/>
<rect x="404.02" y="90.62" width="2.58" height="6.84" fill="#1e4088"/>
<rect x="422.05" y="90.62" width="2.58" height="6.84" fill="#9a9db2"/>
<rect x="429.77" y="90.62" width="2.58" height="6.84" fill="#f2c014"/>
<rect x="455.52" y="90.62" width="2.58" height="6.84" fill="#9a9db2"/>
<rect x="468.4" y="90.62" width="2.58" height="6.84" fill="#f2c014"/>
<rect x="486.1" y="91.07" width="0.99" height="5.59" fill="#9a9db2"/>
<rect x="487.09" y="91.07" width="0.33" height="5.59" fill="#1e4088"/>
<rect x="487.42" y="91.07" width="0.66" height="5.59" fill="#f2c014"/>
<rect x="264.98" y="97.45" width="2.58" height="6.84" fill="#9a9db2"/>
<rect x="280.43" y="97.45" width="5.15" height="6.84" fill="#9a9db2"/>
<rect x="298.45" y="97.45" width="5.15" height="6.84" fill="#9a9db2"/>
<rect x="337.07" y="97.45" width="2.58" height="6.84" fill="#9a9db2"/>
<rect x="342.23" y="97.45" width="5.15" height="6.84" fill="#9a9db2"/>
<rect x="432.35" y="97.45" width="2.58" height="6.84" fill="#9a9db2"/>
<rect x="458.1" y="97.45" width="2.58" height="6.84" fill="#9a9db2"/>
<rect x="486.1" y="97.9" width="1.65" height="5.59" fill="#9a9db2"/>
<rect x="257.25" y="104.29" width="2.58" height="6.84" fill="#1e4088"/>
<rect x="262.4" y="104.29" width="2.58" height="6.84" fill="#1e5c3c"/>
<rect x="267.55" y="104.29" width="2.58" height="6.84" fill="#f2c014"/>
<rect x="272.7" y="104.29" width="2.58" height="6.84" fill="#9a9db2"/>
<rect x="393.73" y="104.29" width="2.58" height="6.84" fill="#8cc0f0"/>
<rect x="401.45" y="104.29" width="2.58" height="6.84" fill="#9a9db2"/>
<rect x="424.62" y="104.29" width="2.58" height="6.84" fill="#9a9db2"/>
<rect x="434.93" y="104.29" width="2.58" height="6.84" fill="#1e4088"/>
<rect x="465.83" y="104.29" width="2.58" height="6.84" fill="#1e5c3c"/>
<rect x="473.55" y="104.29" width="2.58" height="6.84" fill="#9a9db2"/>
<rect x="486.1" y="104.74" width="0.66" height="5.59" fill="#9a9db2"/>
<rect x="486.76" y="104.74" width="0.33" height="5.59" fill="#1e4088"/>
<rect x="487.09" y="104.74" width="0.17" height="5.59" fill="#f2c014"/>
<rect x="487.26" y="104.74" width="0.33" height="5.59" fill="#1e5c3c"/>
<rect x="487.59" y="104.74" width="0.17" height="5.59" fill="#8cc0f0"/>
<rect x="277.85" y="111.13" width="5.15" height="6.84" fill="#9a9db2"/>
<rect x="347.38" y="111.13" width="2.58" height="6.84" fill="#9a9db2"/>
<rect x="404.02" y="111.13" width="2.58" height="6.84" fill="#9a9db2"/>
<rect x="409.18" y="111.13" width="2.58" height="6.84" fill="#9a9db2"/>
<rect x="414.33" y="111.13" width="2.58" height="6.84" fill="#9a9db2"/>
<rect x="422.05" y="111.13" width="2.58" height="6.84" fill="#1e5c3c"/>
<rect x="447.8" y="111.13" width="2.58" height="6.84" fill="#1e5c3c"/>
<rect x="450.38" y="111.13" width="2.58" height="6.84" fill="#9a9db2"/>
<rect x="486.1" y="111.58" width="1.16" height="5.59" fill="#9a9db2"/>
<rect x="487.26" y="111.58" width="0.33" height="5.59" fill="#1e5c3c"/>
<rect x="257.25" y="117.97" width="2.58" height="6.84" fill="#9a9db2"/>
<rect x="272.7" y="117.97" width="2.58" height="6.84" fill="#9a9db2"/>
<rect x="324.2" y="117.97" width="2.58" height="6.84" fill="#9a9db2"/>
<rect x="339.65" y="117.97" width="2.58" height="6.84" fill="#9a9db2"/>
<rect x="393.73" y="117.97" width="2.58" height="6.84" fill="#8cc0f0"/>
<rect x="470.98" y="117.97" width="2.58" height="6.84" fill="#9a9db2"/>
<rect x="476.12" y="117.97" width="2.58" height="6.84" fill="#9a9db2"/>
<rect x="486.1" y="118.42" width="0.99" height="5.59" fill="#9a9db2"/>
<rect x="487.09" y="118.42" width="0.17" height="5.59" fill="#8cc0f0"/>
<rect x="275.27" y="124.81" width="2.58" height="6.84" fill="#9a9db2"/>
<rect x="293.3" y="124.81" width="2.58" height="6.84" fill="#9a9db2"/>
<rect x="349.95" y="124.81" width="2.58" height="6.84" fill="#9a9db2"/>
<rect x="416.9" y="124.81" width="2.58" height="6.84" fill="#9a9db2"/>
<rect x="424.62" y="124.81" width="2.58" height="6.84" fill="#9a9db2"/>
<rect x="486.1" y="125.26" width="0.83" height="5.59" fill="#9a9db2"/>
<rect x="337.07" y="131.64" width="2.58" height="6.84" fill="#9a9db2"/>
<rect x="347.38" y="131.64" width="2.58" height="6.84" fill="#9a9db2"/>
<rect x="352.52" y="131.64" width="2.58" height="6.84" fill="#9a9db2"/>
<rect x="416.9" y="131.64" width="2.58" height="6.84" fill="#9a9db2"/>
<rect x="429.77" y="131.64" width="2.58" height="6.84" fill="#f2c014"/>
<rect x="486.1" y="132.09" width="0.66" height="5.59" fill="#9a9db2"/>
<rect x="486.76" y="132.09" width="0.17" height="5.59" fill="#f2c014"/>
<rect x="264.98" y="138.48" width="2.58" height="6.84" fill="#9a9db2"/>
<rect x="355.1" y="138.48" width="2.58" height="6.84" fill="#9a9db2"/>
<rect x="434.93" y="138.48" width="5.15" height="6.84" fill="#f2c014"/>
<rect x="486.1" y="138.93" width="0.33" height="5.59" fill="#9a9db2"/>
<rect x="486.43" y="138.93" width="0.33" height="5.59" fill="#f2c014"/>
<rect x="349.95" y="145.32" width="2.58" height="6.84" fill="#9a9db2"/>
<rect x="437.5" y="145.32" width="5.15" height="6.84" fill="#9a9db2"/>
<rect x="455.52" y="145.32" width="2.58" height="6.84" fill="#9a9db2"/>
<rect x="486.1" y="145.77" width="0.66" height="5.59" fill="#9a9db2"/>
<rect x="339.65" y="152.16" width="2.58" height="6.84" fill="#1e4088"/>
<rect x="352.52" y="152.16" width="2.58" height="6.84" fill="#f2c014"/>
<rect x="478.7" y="152.16" width="2.58" height="6.84" fill="#1e4088"/>
<rect x="486.1" y="152.61" width="0.33" height="5.59" fill="#1e4088"/>
<rect x="486.43" y="152.61" width="0.17" height="5.59" fill="#f2c014"/>
<rect x="285.57" y="159" width="2.58" height="6.84" fill="#9a9db2"/>
<rect x="486.1" y="159.45" width="0.17" height="5.59" fill="#9a9db2"/>
<rect x="357.68" y="165.83" width="5.15" height="6.84" fill="#9a9db2"/>
<rect x="424.62" y="165.83" width="2.58" height="6.84" fill="#1e4088"/>
<rect x="429.77" y="165.83" width="2.58" height="6.84" fill="#9a9db2"/>
<rect x="434.93" y="165.83" width="2.58" height="6.84" fill="#e08a10"/>
<rect x="486.1" y="166.28" width="0.5" height="5.59" fill="#9a9db2"/>
<rect x="486.6" y="166.28" width="0.17" height="5.59" fill="#1e4088"/>
<rect x="486.76" y="166.28" width="0.17" height="5.59" fill="#e08a10"/>
<rect x="257.25" y="172.67" width="2.58" height="6.84" fill="#9a9db2"/>
<rect x="401.45" y="172.67" width="2.58" height="6.84" fill="#9a9db2"/>
<rect x="470.98" y="172.67" width="2.58" height="6.84" fill="#9a9db2"/>
<rect x="486.1" y="173.12" width="0.5" height="5.59" fill="#9a9db2"/>
<rect x="406.6" y="179.51" width="2.58" height="6.84" fill="#f2c014"/>
<rect x="416.9" y="179.51" width="2.58" height="6.84" fill="#1e4088"/>
<rect x="427.2" y="179.51" width="2.58" height="6.84" fill="#1e4088"/>
<rect x="473.55" y="179.51" width="2.58" height="6.84" fill="#9a9db2"/>
<rect x="486.1" y="179.96" width="0.17" height="5.59" fill="#9a9db2"/>
<rect x="486.27" y="179.96" width="0.33" height="5.59" fill="#1e4088"/>
<rect x="486.6" y="179.96" width="0.17" height="5.59" fill="#f2c014"/>
<rect x="295.88" y="186.35" width="2.58" height="6.84" fill="#9a9db2"/>
<rect x="324.2" y="186.35" width="2.58" height="6.84" fill="#9a9db2"/>
<rect x="329.35" y="186.35" width="2.58" height="6.84" fill="#9a9db2"/>
<rect x="396.3" y="186.35" width="2.58" height="6.84" fill="#9a9db2"/>
<rect x="486.1" y="186.8" width="0.66" height="5.59" fill="#9a9db2"/>
<rect x="349.95" y="193.19" width="2.58" height="6.84" fill="#9a9db2"/>
<rect x="355.1" y="193.19" width="2.58" height="6.84" fill="#9a9db2"/>
<rect x="455.52" y="193.19" width="2.58" height="6.84" fill="#9a9db2"/>
<rect x="486.1" y="193.64" width="0.5" height="5.59" fill="#9a9db2"/>
<rect x="419.48" y="200.02" width="2.58" height="6.84" fill="#1e4088"/>
<rect x="442.65" y="200.02" width="2.58" height="6.84" fill="#f2c014"/>
<rect x="473.55" y="200.02" width="2.58" height="6.84" fill="#1e4088"/>
<rect x="481.27" y="200.02" width="2.58" height="6.84" fill="#1e4088"/>
<rect x="486.1" y="200.47" width="0.5" height="5.59" fill="#1e4088"/>
<rect x="486.6" y="200.47" width="0.17" height="5.59" fill="#f2c014"/>
<rect x="419.48" y="206.86" width="2.58" height="6.84" fill="#f2c014"/>
<rect x="422.05" y="206.86" width="2.58" height="6.84" fill="#1e4088"/>
<rect x="486.1" y="207.31" width="0.17" height="5.59" fill="#1e4088"/>
<rect x="486.27" y="207.31" width="0.17" height="5.59" fill="#f2c014"/>
<rect x="401.45" y="213.7" width="2.58" height="6.84" fill="#9a9db2"/>
<rect x="473.55" y="213.7" width="2.58" height="6.84" fill="#9a9db2"/>
<rect x="486.1" y="214.15" width="0.33" height="5.59" fill="#9a9db2"/>
<rect x="257.25" y="220.54" width="2.58" height="6.84" fill="#9a9db2"/>
<rect x="365.4" y="220.54" width="2.58" height="6.84" fill="#9a9db2"/>
<rect x="476.12" y="220.54" width="2.58" height="6.84" fill="#9a9db2"/>
<rect x="486.1" y="220.99" width="0.5" height="5.59" fill="#9a9db2"/>
<rect x="303.6" y="227.38" width="2.58" height="6.84" fill="#9a9db2"/>
<rect x="362.82" y="227.38" width="2.58" height="6.84" fill="#1e4088"/>
<rect x="486.1" y="227.83" width="0.17" height="5.59" fill="#9a9db2"/>
<rect x="486.27" y="227.83" width="0.17" height="5.59" fill="#1e4088"/>
<rect x="473.55" y="234.21" width="2.58" height="6.84" fill="#1e4088"/>
<rect x="481.27" y="234.21" width="2.58" height="6.84" fill="#1e5c3c"/>
<rect x="486.1" y="234.66" width="0.17" height="5.59" fill="#1e4088"/>
<rect x="486.27" y="234.66" width="0.17" height="5.59" fill="#1e5c3c"/>
<rect x="391.15" y="241.05" width="2.58" height="6.84" fill="#9a9db2"/>
<rect x="429.77" y="241.05" width="2.58" height="6.84" fill="#9a9db2"/>
<rect x="450.38" y="241.05" width="2.58" height="6.84" fill="#9a9db2"/>
<rect x="486.1" y="241.5" width="0.5" height="5.59" fill="#9a9db2"/>
<rect x="460.68" y="247.89" width="2.58" height="6.84" fill="#9a9db2"/>
<rect x="470.98" y="247.89" width="2.58" height="6.84" fill="#9a9db2"/>
<rect x="486.1" y="248.34" width="0.33" height="5.59" fill="#9a9db2"/>
<rect x="37.1" y="256.9" width="177.68" height="7" fill="#d2d8d8"/>
<path fill="#707070" fill-opacity="0.75" d="M36.65 256.6h0.9v7.6h-0.9zM39.23 256.6h0.9v7.6h-0.9zM41.8 256.6h0.9v7.6h-0.9zM44.38 256.6h0.9v7.6h-0.9zM46.95 256.6h0.9v7.6h-0.9zM49.52 256.6h0.9v7.6h-0.9zM52.1 256.6h0.9v7.6h-0.9zM54.67 256.6h0.9v7.6h-0.9zM57.25 256.6h0.9v7.6h-0.9zM59.83 256.6h0.9v7.6h-0.9zM62.4 256.6h0.9v7.6h-0.9zM64.98 256.6h0.9v7.6h-0.9zM67.55 256.6h0.9v7.6h-0.9zM70.12 256.6h0.9v7.6h-0.9zM72.7 256.6h0.9v7.6h-0.9zM75.27 256.6h0.9v7.6h-0.9zM77.85 256.6h0.9v7.6h-0.9zM80.42 256.6h0.9v7.6h-0.9zM83 256.6h0.9v7.6h-0.9zM85.58 256.6h0.9v7.6h-0.9zM88.15 256.6h0.9v7.6h-0.9zM90.73 256.6h0.9v7.6h-0.9zM93.3 256.6h0.9v7.6h-0.9zM95.88 256.6h0.9v7.6h-0.9zM98.45 256.6h0.9v7.6h-0.9zM101.02 256.6h0.9v7.6h-0.9zM103.6 256.6h0.9v7.6h-0.9zM106.17 256.6h0.9v7.6h-0.9zM108.75 256.6h0.9v7.6h-0.9zM111.33 256.6h0.9v7.6h-0.9zM113.9 256.6h0.9v7.6h-0.9zM116.48 256.6h0.9v7.6h-0.9zM119.05 256.6h0.9v7.6h-0.9zM121.63 256.6h0.9v7.6h-0.9zM124.2 256.6h0.9v7.6h-0.9zM126.77 256.6h0.9v7.6h-0.9zM129.35 256.6h0.9v7.6h-0.9zM131.93 256.6h0.9v7.6h-0.9zM134.5 256.6h0.9v7.6h-0.9zM137.08 256.6h0.9v7.6h-0.9zM139.65 256.6h0.9v7.6h-0.9zM142.23 256.6h0.9v7.6h-0.9zM144.8 256.6h0.9v7.6h-0.9zM147.38 256.6h0.9v7.6h-0.9zM149.95 256.6h0.9v7.6h-0.9zM152.53 256.6h0.9v7.6h-0.9zM155.1 256.6h0.9v7.6h-0.9zM157.68 256.6h0.9v7.6h-0.9zM160.25 256.6h0.9v7.6h-0.9zM162.83 256.6h0.9v7.6h-0.9zM165.4 256.6h0.9v7.6h-0.9zM167.98 256.6h0.9v7.6h-0.9zM170.55 256.6h0.9v7.6h-0.9zM173.13 256.6h0.9v7.6h-0.9zM175.7 256.6h0.9v7.6h-0.9zM178.28 256.6h0.9v7.6h-0.9zM180.85 256.6h0.9v7.6h-0.9zM183.43 256.6h0.9v7.6h-0.9zM186 256.6h0.9v7.6h-0.9zM188.58 256.6h0.9v7.6h-0.9zM191.15 256.6h0.9v7.6h-0.9zM193.73 256.6h0.9v7.6h-0.9zM196.3 256.6h0.9v7.6h-0.9zM198.88 256.6h0.9v7.6h-0.9zM201.45 256.6h0.9v7.6h-0.9zM204.03 256.6h0.9v7.6h-0.9zM206.6 256.6h0.9v7.6h-0.9zM209.18 256.6h0.9v7.6h-0.9zM211.75 256.6h0.9v7.6h-0.9zM214.33 256.6h0.9v7.6h-0.9zM36.65 256.6h178.58v0.6h-178.58zM36.65 263.6h178.58v0.6h-178.58z"/>
<rect x="37.1" y="256.9" width="33.48" height="7" fill="#aa0428"/>
<rect x="73.15" y="256.9" width="2.58" height="7" fill="#aa0428"/>
<rect x="78.3" y="256.9" width="10.3" height="7" fill="#aa0428"/>
<rect x="91.18" y="256.9" width="2.58" height="7" fill="#aa0428"/>
<rect x="96.33" y="256.9" width="5.15" height="7" fill="#aa0428"/>
<rect x="106.62" y="256.9" width="2.58" height="7" fill="#aa0428"/>
<rect x="111.78" y="256.9" width="12.88" height="7" fill="#aa0428"/>
<rect x="132.38" y="256.9" width="2.58" height="7" fill="#aa0428"/>
<rect x="137.53" y="256.9" width="5.15" height="7" fill="#aa0428"/>
<rect x="145.25" y="256.9" width="25.75" height="7" fill="#aa0428"/>
<rect x="173.58" y="256.9" width="5.15" height="7" fill="#aa0428"/>
<rect x="181.3" y="256.9" width="25.75" height="7" fill="#aa0428"/>
<rect x="209.62" y="256.9" width="5.15" height="7" fill="#aa0428"/>
<rect x="257.25" y="256.9" width="226.6" height="7" fill="#d2d8d8"/>
<path fill="#707070" fill-opacity="0.75" d="M256.8 256.6h0.9v7.6h-0.9zM259.38 256.6h0.9v7.6h-0.9zM261.95 256.6h0.9v7.6h-0.9zM264.53 256.6h0.9v7.6h-0.9zM267.1 256.6h0.9v7.6h-0.9zM269.68 256.6h0.9v7.6h-0.9zM272.25 256.6h0.9v7.6h-0.9zM274.82 256.6h0.9v7.6h-0.9zM277.4 256.6h0.9v7.6h-0.9zM279.98 256.6h0.9v7.6h-0.9zM282.55 256.6h0.9v7.6h-0.9zM285.12 256.6h0.9v7.6h-0.9zM287.7 256.6h0.9v7.6h-0.9zM290.28 256.6h0.9v7.6h-0.9zM292.85 256.6h0.9v7.6h-0.9zM295.43 256.6h0.9v7.6h-0.9zM298 256.6h0.9v7.6h-0.9zM300.57 256.6h0.9v7.6h-0.9zM303.15 256.6h0.9v7.6h-0.9zM305.73 256.6h0.9v7.6h-0.9zM308.3 256.6h0.9v7.6h-0.9zM310.88 256.6h0.9v7.6h-0.9zM313.45 256.6h0.9v7.6h-0.9zM316.03 256.6h0.9v7.6h-0.9zM318.6 256.6h0.9v7.6h-0.9zM321.18 256.6h0.9v7.6h-0.9zM323.75 256.6h0.9v7.6h-0.9zM326.32 256.6h0.9v7.6h-0.9zM328.9 256.6h0.9v7.6h-0.9zM331.48 256.6h0.9v7.6h-0.9zM334.05 256.6h0.9v7.6h-0.9zM336.62 256.6h0.9v7.6h-0.9zM339.2 256.6h0.9v7.6h-0.9zM341.78 256.6h0.9v7.6h-0.9zM344.35 256.6h0.9v7.6h-0.9zM346.93 256.6h0.9v7.6h-0.9zM349.5 256.6h0.9v7.6h-0.9zM352.07 256.6h0.9v7.6h-0.9zM354.65 256.6h0.9v7.6h-0.9zM357.23 256.6h0.9v7.6h-0.9zM359.8 256.6h0.9v7.6h-0.9zM362.38 256.6h0.9v7.6h-0.9zM364.95 256.6h0.9v7.6h-0.9zM367.53 256.6h0.9v7.6h-0.9zM370.1 256.6h0.9v7.6h-0.9zM372.68 256.6h0.9v7.6h-0.9zM375.25 256.6h0.9v7.6h-0.9zM377.82 256.6h0.9v7.6h-0.9zM380.4 256.6h0.9v7.6h-0.9zM382.98 256.6h0.9v7.6h-0.9zM385.55 256.6h0.9v7.6h-0.9zM388.13 256.6h0.9v7.6h-0.9zM390.7 256.6h0.9v7.6h-0.9zM393.28 256.6h0.9v7.6h-0.9zM395.85 256.6h0.9v7.6h-0.9zM398.43 256.6h0.9v7.6h-0.9zM401 256.6h0.9v7.6h-0.9zM403.57 256.6h0.9v7.6h-0.9zM406.15 256.6h0.9v7.6h-0.9zM408.73 256.6h0.9v7.6h-0.9zM411.3 256.6h0.9v7.6h-0.9zM413.88 256.6h0.9v7.6h-0.9zM416.45 256.6h0.9v7.6h-0.9zM419.03 256.6h0.9v7.6h-0.9zM421.6 256.6h0.9v7.6h-0.9zM424.18 256.6h0.9v7.6h-0.9zM426.75 256.6h0.9v7.6h-0.9zM429.32 256.6h0.9v7.6h-0.9zM431.9 256.6h0.9v7.6h-0.9zM434.48 256.6h0.9v7.6h-0.9zM437.05 256.6h0.9v7.6h-0.9zM439.63 256.6h0.9v7.6h-0.9zM442.2 256.6h0.9v7.6h-0.9zM444.78 256.6h0.9v7.6h-0.9zM447.35 256.6h0.9v7.6h-0.9zM449.93 256.6h0.9v7.6h-0.9zM452.5 256.6h0.9v7.6h-0.9zM455.07 256.6h0.9v7.6h-0.9zM457.65 256.6h0.9v7.6h-0.9zM460.23 256.6h0.9v7.6h-0.9zM462.8 256.6h0.9v7.6h-0.9zM465.38 256.6h0.9v7.6h-0.9zM467.95 256.6h0.9v7.6h-0.9zM470.53 256.6h0.9v7.6h-0.9zM473.1 256.6h0.9v7.6h-0.9zM475.68 256.6h0.9v7.6h-0.9zM478.25 256.6h0.9v7.6h-0.9zM480.82 256.6h0.9v7.6h-0.9zM483.4 256.6h0.9v7.6h-0.9zM256.8 256.6h227.5v0.6h-227.5zM256.8 263.6h227.5v0.6h-227.5z"/>
<rect x="257.25" y="256.9" width="5.15" height="7" fill="#aa0428"/>
<rect x="267.55" y="256.9" width="10.3" height="7" fill="#aa0428"/>
<rect x="285.57" y="256.9" width="7.73" height="7" fill="#aa0428"/>
<rect x="295.88" y="256.9" width="20.6" height="7" fill="#aa0428"/>
<rect x="324.2" y="256.9" width="30.9" height="7" fill="#aa0428"/>
<rect x="360.25" y="256.9" width="5.15" height="7" fill="#aa0428"/>
<rect x="370.55" y="256.9" width="2.58" height="7" fill="#aa0428"/>
<rect x="375.7" y="256.9" width="12.88" height="7" fill="#aa0428"/>
<rect x="393.73" y="256.9" width="2.58" height="7" fill="#aa0428"/>
<rect x="398.88" y="256.9" width="7.73" height="7" fill="#aa0428"/>
<rect x="411.75" y="256.9" width="2.58" height="7" fill="#aa0428"/>
<rect x="416.9" y="256.9" width="12.88" height="7" fill="#aa0428"/>
<rect x="434.93" y="256.9" width="7.73" height="7" fill="#aa0428"/>
<rect x="445.23" y="256.9" width="2.58" height="7" fill="#aa0428"/>
<rect x="450.38" y="256.9" width="5.15" height="7" fill="#aa0428"/>
<rect x="458.1" y="256.9" width="2.58" height="7" fill="#aa0428"/>
<rect x="463.25" y="256.9" width="10.3" height="7" fill="#aa0428"/>
<rect x="216.90" y="41.5" width="14.85" height="0.4" fill="#555"/>
<rect x="216.70" y="40.8" width="0.4" height="0.8" fill="#666"/>
<rect x="219.08" y="40.8" width="0.4" height="0.8" fill="#666"/>
<rect x="221.45" y="40.8" width="0.4" height="0.8" fill="#666"/>
<rect x="223.83" y="40.8" width="0.4" height="0.8" fill="#666"/>
<rect x="226.20" y="40.8" width="0.4" height="0.8" fill="#666"/>
<rect x="228.58" y="40.8" width="0.4" height="0.8" fill="#666"/>
<rect x="230.95" y="40.8" width="0.4" height="0.8" fill="#666"/>
<rect x="485.60" y="41.5" width="11.25" height="0.4" fill="#555"/>
<rect x="485.40" y="40.8" width="0.4" height="0.8" fill="#666"/>
<rect x="487.18" y="40.8" width="0.4" height="0.8" fill="#666"/>
<rect x="488.95" y="40.8" width="0.4" height="0.8" fill="#666"/>
<rect x="490.73" y="40.8" width="0.4" height="0.8" fill="#666"/>
<rect x="492.50" y="40.8" width="0.4" height="0.8" fill="#666"/>
<rect x="494.28" y="40.8" width="0.4" height="0.8" fill="#666"/>
<rect x="496.05" y="40.8" width="0.4" height="0.8" fill="#666"/>
<rect x="45" y="288" width="4.8" height="4.8" fill="#6db6ea"/>
<rect x="45" y="294.4" width="4.8" height="4.8" fill="#52206c"/>
<rect x="77.2" y="288" width="4.8" height="4.8" fill="#c8047c"/>
<rect x="77.2" y="294.4" width="4.8" height="4.8" fill="#5cac34"/>
<rect x="110.2" y="288" width="4.8" height="4.8" fill="#b4c482"/>
<rect x="110.2" y="294.4" width="4.8" height="4.8" fill="#5c3010"/>
<rect x="151.2" y="281.8" width="4.8" height="4.8" fill="#9a9eb0"/>
<rect x="151.2" y="288" width="4.8" height="4.8" fill="#e08a10"/>
<rect x="151.2" y="294.4" width="4.8" height="4.8" fill="#8cc0f0"/>
<rect x="191.2" y="281.8" width="4.8" height="4.8" fill="#1e5c3c"/>
<rect x="191.2" y="288" width="4.8" height="4.8" fill="#f2c014"/>
<rect x="191.2" y="294.4" width="4.8" height="4.8" fill="#1e4088"/>
<rect x="231.2" y="288" width="4.8" height="4.8" fill="#c8c8d0"/>
<rect x="231.2" y="294.4" width="4.8" height="4.8" fill="#aa0428"/>
<path fill="#000000" fill-opacity="0.4" d="M36.75 18.05h0.7v21.21h-0.7zM39.33 18.05h0.7v21.21h-0.7zM41.9 18.05h0.7v21.21h-0.7zM44.48 18.05h0.7v21.21h-0.7zM47.05 18.05h0.7v21.21h-0.7zM49.62 18.05h0.7v21.21h-0.7zM52.2 18.05h0.7v21.21h-0.7zM54.77 18.05h0.7v21.21h-0.7zM57.35 18.05h0.7v21.21h-0.7zM59.93 18.05h0.7v21.21h-0.7zM62.5 18.05h0.7v21.21h-0.7zM65.08 18.05h0.7v21.21h-0.7zM67.65 18.05h0.7v21.21h-0.7zM70.23 18.05h0.7v21.21h-0.7zM72.8 18.05h0.7v21.21h-0.7zM75.38 18.05h0.7v21.21h-0.7zM77.95 18.05h0.7v21.21h-0.7zM80.53 18.05h0.7v21.21h-0.7zM83.1 18.05h0.7v21.21h-0.7zM85.68 18.05h0.7v21.21h-0.7zM88.25 18.05h0.7v21.21h-0.7zM90.83 18.05h0.7v21.21h-0.7zM93.4 18.05h0.7v21.21h-0.7zM95.98 18.05h0.7v21.21h-0.7zM98.55 18.05h0.7v21.21h-0.7zM101.12 18.05h0.7v21.21h-0.7zM103.7 18.05h0.7v21.21h-0.7zM106.28 18.05h0.7v21.21h-0.7zM108.85 18.05h0.7v21.21h-0.7zM111.43 18.05h0.7v21.21h-0.7zM114 18.05h0.7v21.21h-0.7zM116.58 18.05h0.7v21.21h-0.7zM119.15 18.05h0.7v21.21h-0.7zM121.73 18.05h0.7v21.21h-0.7zM124.3 18.05h0.7v21.21h-0.7zM126.88 18.05h0.7v21.21h-0.7zM129.45 18.05h0.7v21.21h-0.7zM132.03 18.05h0.7v21.21h-0.7zM134.6 18.05h0.7v21.21h-0.7zM137.18 18.05h0.7v21.21h-0.7zM139.75 18.05h0.7v21.21h-0.7zM142.33 18.05h0.7v21.21h-0.7zM144.9 18.05h0.7v21.21h-0.7zM147.48 18.05h0.7v21.21h-0.7zM150.05 18.05h0.7v21.21h-0.7zM152.63 18.05h0.7v21.21h-0.7zM155.2 18.05h0.7v21.21h-0.7zM157.78 18.05h0.7v21.21h-0.7zM160.35 18.05h0.7v21.21h-0.7zM162.93 18.05h0.7v21.21h-0.7zM165.5 18.05h0.7v21.21h-0.7zM168.08 18.05h0.7v21.21h-0.7zM170.65 18.05h0.7v21.21h-0.7zM173.23 18.05h0.7v21.21h-0.7zM175.8 18.05h0.7v21.21h-0.7zM178.38 18.05h0.7v21.21h-0.7zM180.95 18.05h0.7v21.21h-0.7zM183.53 18.05h0.7v21.21h-0.7zM186.1 18.05h0.7v21.21h-0.7zM188.68 18.05h0.7v21.21h-0.7zM191.25 18.05h0.7v21.21h-0.7zM193.83 18.05h0.7v21.21h-0.7zM196.4 18.05h0.7v21.21h-0.7zM198.98 18.05h0.7v21.21h-0.7zM201.55 18.05h0.7v21.21h-0.7zM204.12 18.05h0.7v21.21h-0.7zM206.7 18.05h0.7v21.21h-0.7zM209.28 18.05h0.7v21.21h-0.7zM211.85 18.05h0.7v21.21h-0.7zM214.43 18.05h0.7v21.21h-0.7zM36.75 18.05h178.38v0.7h-178.38zM36.75 24.89h178.38v0.7h-178.38zM36.75 31.73h178.38v0.7h-178.38zM36.75 38.56h178.38v0.7h-178.38z"/>
<path fill="#000000" fill-opacity="0.4" d="M256.9 18.05h0.7v21.21h-0.7zM259.47 18.05h0.7v21.21h-0.7zM262.05 18.05h0.7v21.21h-0.7zM264.62 18.05h0.7v21.21h-0.7zM267.2 18.05h0.7v21.21h-0.7zM269.77 18.05h0.7v21.21h-0.7zM272.35 18.05h0.7v21.21h-0.7zM274.92 18.05h0.7v21.21h-0.7zM277.5 18.05h0.7v21.21h-0.7zM280.07 18.05h0.7v21.21h-0.7zM282.65 18.05h0.7v21.21h-0.7zM285.22 18.05h0.7v21.21h-0.7zM287.8 18.05h0.7v21.21h-0.7zM290.38 18.05h0.7v21.21h-0.7zM292.95 18.05h0.7v21.21h-0.7zM295.52 18.05h0.7v21.21h-0.7zM298.1 18.05h0.7v21.21h-0.7zM300.67 18.05h0.7v21.21h-0.7zM303.25 18.05h0.7v21.21h-0.7zM305.82 18.05h0.7v21.21h-0.7zM308.4 18.05h0.7v21.21h-0.7zM310.97 18.05h0.7v21.21h-0.7zM313.55 18.05h0.7v21.21h-0.7zM316.12 18.05h0.7v21.21h-0.7zM318.7 18.05h0.7v21.21h-0.7zM321.27 18.05h0.7v21.21h-0.7zM323.85 18.05h0.7v21.21h-0.7zM326.42 18.05h0.7v21.21h-0.7zM329 18.05h0.7v21.21h-0.7zM331.57 18.05h0.7v21.21h-0.7zM334.15 18.05h0.7v21.21h-0.7zM336.72 18.05h0.7v21.21h-0.7zM339.3 18.05h0.7v21.21h-0.7zM341.88 18.05h0.7v21.21h-0.7zM344.45 18.05h0.7v21.21h-0.7zM347.02 18.05h0.7v21.21h-0.7zM349.6 18.05h0.7v21.21h-0.7zM352.17 18.05h0.7v21.21h-0.7zM354.75 18.05h0.7v21.21h-0.7zM357.32 18.05h0.7v21.21h-0.7zM359.9 18.05h0.7v21.21h-0.7zM362.47 18.05h0.7v21.21h-0.7zM365.05 18.05h0.7v21.21h-0.7zM367.62 18.05h0.7v21.21h-0.7zM370.2 18.05h0.7v21.21h-0.7zM372.77 18.05h0.7v21.21h-0.7zM375.35 18.05h0.7v21.21h-0.7zM377.92 18.05h0.7v21.21h-0.7zM380.5 18.05h0.7v21.21h-0.7zM383.07 18.05h0.7v21.21h-0.7zM385.65 18.05h0.7v21.21h-0.7zM388.23 18.05h0.7v21.21h-0.7zM390.8 18.05h0.7v21.21h-0.7zM393.38 18.05h0.7v21.21h-0.7zM395.95 18.05h0.7v21.21h-0.7zM398.52 18.05h0.7v21.21h-0.7zM401.1 18.05h0.7v21.21h-0.7zM403.67 18.05h0.7v21.21h-0.7zM406.25 18.05h0.7v21.21h-0.7zM408.82 18.05h0.7v21.21h-0.7zM411.4 18.05h0.7v21.21h-0.7zM413.98 18.05h0.7v21.21h-0.7zM416.55 18.05h0.7v21.21h-0.7zM419.12 18.05h0.7v21.21h-0.7zM421.7 18.05h0.7v21.21h-0.7zM424.27 18.05h0.7v21.21h-0.7zM426.85 18.05h0.7v21.21h-0.7zM429.42 18.05h0.7v21.21h-0.7zM432 18.05h0.7v21.21h-0.7zM434.57 18.05h0.7v21.21h-0.7zM437.15 18.05h0.7v21.21h-0.7zM439.73 18.05h0.7v21.21h-0.7zM442.3 18.05h0.7v21.21h-0.7zM444.88 18.05h0.7v21.21h-0.7zM447.45 18.05h0.7v21.21h-0.7zM450.02 18.05h0.7v21.21h-0.7zM452.6 18.05h0.7v21.21h-0.7zM455.17 18.05h0.7v21.21h-0.7zM457.75 18.05h0.7v21.21h-0.7zM460.32 18.05h0.7v21.21h-0.7zM462.9 18.05h0.7v21.21h-0.7zM465.48 18.05h0.7v21.21h-0.7zM468.05 18.05h0.7v21.21h-0.7zM470.62 18.05h0.7v21.21h-0.7zM473.2 18.05h0.7v21.21h-0.7zM475.77 18.05h0.7v21.21h-0.7zM478.35 18.05h0.7v21.21h-0.7zM480.92 18.05h0.7v21.21h-0.7zM483.5 18.05h0.7v21.21h-0.7zM256.9 18.05h227.3v0.7h-227.3zM256.9 24.89h227.3v0.7h-227.3zM256.9 31.73h227.3v0.7h-227.3zM256.9 38.56h227.3v0.7h-227.3z"/>
<path fill="#000000" fill-opacity="0.36" d="M36.75 42h0.7v213.48h-0.7zM39.33 42h0.7v213.48h-0.7zM41.9 42h0.7v213.48h-0.7zM44.48 42h0.7v213.48h-0.7zM47.05 42h0.7v213.48h-0.7zM49.62 42h0.7v213.48h-0.7zM52.2 42h0.7v213.48h-0.7zM54.77 42h0.7v213.48h-0.7zM57.35 42h0.7v213.48h-0.7zM59.93 42h0.7v213.48h-0.7zM62.5 42h0.7v213.48h-0.7zM65.08 42h0.7v213.48h-0.7zM67.65 42h0.7v213.48h-0.7zM70.23 42h0.7v213.48h-0.7zM72.8 42h0.7v213.48h-0.7zM75.38 42h0.7v213.48h-0.7zM77.95 42h0.7v213.48h-0.7zM80.53 42h0.7v213.48h-0.7zM83.1 42h0.7v213.48h-0.7zM85.68 42h0.7v213.48h-0.7zM88.25 42h0.7v213.48h-0.7zM90.83 42h0.7v213.48h-0.7zM93.4 42h0.7v213.48h-0.7zM95.98 42h0.7v213.48h-0.7zM98.55 42h0.7v213.48h-0.7zM101.12 42h0.7v213.48h-0.7zM103.7 42h0.7v213.48h-0.7zM106.28 42h0.7v213.48h-0.7zM108.85 42h0.7v213.48h-0.7zM111.43 42h0.7v213.48h-0.7zM114 42h0.7v213.48h-0.7zM116.58 42h0.7v213.48h-0.7zM119.15 42h0.7v213.48h-0.7zM121.73 42h0.7v213.48h-0.7zM124.3 42h0.7v213.48h-0.7zM126.88 42h0.7v213.48h-0.7zM129.45 42h0.7v213.48h-0.7zM132.03 42h0.7v213.48h-0.7zM134.6 42h0.7v213.48h-0.7zM137.18 42h0.7v213.48h-0.7zM139.75 42h0.7v213.48h-0.7zM142.33 42h0.7v213.48h-0.7zM144.9 42h0.7v213.48h-0.7zM147.48 42h0.7v213.48h-0.7zM150.05 42h0.7v213.48h-0.7zM152.63 42h0.7v213.48h-0.7zM155.2 42h0.7v213.48h-0.7zM157.78 42h0.7v213.48h-0.7zM160.35 42h0.7v213.48h-0.7zM162.93 42h0.7v213.48h-0.7zM165.5 42h0.7v213.48h-0.7zM168.08 42h0.7v213.48h-0.7zM170.65 42h0.7v213.48h-0.7zM173.23 42h0.7v213.48h-0.7zM175.8 42h0.7v213.48h-0.7zM178.38 42h0.7v213.48h-0.7zM180.95 42h0.7v213.48h-0.7zM183.53 42h0.7v213.48h-0.7zM186.1 42h0.7v213.48h-0.7zM188.68 42h0.7v213.48h-0.7zM191.25 42h0.7v213.48h-0.7zM193.83 42h0.7v213.48h-0.7zM196.4 42h0.7v213.48h-0.7zM198.98 42h0.7v213.48h-0.7zM201.55 42h0.7v213.48h-0.7zM204.12 42h0.7v213.48h-0.7zM206.7 42h0.7v213.48h-0.7zM209.28 42h0.7v213.48h-0.7zM211.85 42h0.7v213.48h-0.7zM214.43 42h0.7v213.48h-0.7z"/>
<path fill="#000000" fill-opacity="0.28" d="M36.75 42h178.38v1.5h-178.38zM36.75 48.84h178.38v1.5h-178.38zM36.75 55.68h178.38v1.5h-178.38zM36.75 62.51h178.38v1.5h-178.38zM36.75 69.35h178.38v1.5h-178.38zM36.75 76.19h178.38v1.5h-178.38zM36.75 83.03h178.38v1.5h-178.38zM36.75 89.87h178.38v1.5h-178.38zM36.75 96.7h178.38v1.5h-178.38zM36.75 103.54h178.38v1.5h-178.38zM36.75 110.38h178.38v1.5h-178.38zM36.75 117.22h178.38v1.5h-178.38zM36.75 124.06h178.38v1.5h-178.38zM36.75 130.89h178.38v1.5h-178.38zM36.75 137.73h178.38v1.5h-178.38zM36.75 144.57h178.38v1.5h-178.38zM36.75 151.41h178.38v1.5h-178.38zM36.75 158.25h178.38v1.5h-178.38zM36.75 165.08h178.38v1.5h-178.38zM36.75 171.92h178.38v1.5h-178.38zM36.75 178.76h178.38v1.5h-178.38zM36.75 185.6h178.38v1.5h-178.38zM36.75 192.44h178.38v1.5h-178.38zM36.75 199.27h178.38v1.5h-178.38zM36.75 206.11h178.38v1.5h-178.38zM36.75 212.95h178.38v1.5h-178.38zM36.75 219.79h178.38v1.5h-178.38zM36.75 226.63h178.38v1.5h-178.38zM36.75 233.46h178.38v1.5h-178.38zM36.75 240.3h178.38v1.5h-178.38zM36.75 247.14h178.38v1.5h-178.38zM36.75 253.98h178.38v1.5h-178.38z"/>
<path fill="#000000" fill-opacity="0.36" d="M256.9 42h0.7v213.48h-0.7zM259.47 42h0.7v213.48h-0.7zM262.05 42h0.7v213.48h-0.7zM264.62 42h0.7v213.48h-0.7zM267.2 42h0.7v213.48h-0.7zM269.77 42h0.7v213.48h-0.7zM272.35 42h0.7v213.48h-0.7zM274.92 42h0.7v213.48h-0.7zM277.5 42h0.7v213.48h-0.7zM280.07 42h0.7v213.48h-0.7zM282.65 42h0.7v213.48h-0.7zM285.22 42h0.7v213.48h-0.7zM287.8 42h0.7v213.48h-0.7zM290.38 42h0.7v213.48h-0.7zM292.95 42h0.7v213.48h-0.7zM295.52 42h0.7v213.48h-0.7zM298.1 42h0.7v213.48h-0.7zM300.67 42h0.7v213.48h-0.7zM303.25 42h0.7v213.48h-0.7zM305.82 42h0.7v213.48h-0.7zM308.4 42h0.7v213.48h-0.7zM310.97 42h0.7v213.48h-0.7zM313.55 42h0.7v213.48h-0.7zM316.12 42h0.7v213.48h-0.7zM318.7 42h0.7v213.48h-0.7zM321.27 42h0.7v213.48h-0.7zM323.85 42h0.7v213.48h-0.7zM326.42 42h0.7v213.48h-0.7zM329 42h0.7v213.48h-0.7zM331.57 42h0.7v213.48h-0.7zM334.15 42h0.7v213.48h-0.7zM336.72 42h0.7v213.48h-0.7zM339.3 42h0.7v213.48h-0.7zM341.88 42h0.7v213.48h-0.7zM344.45 42h0.7v213.48h-0.7zM347.02 42h0.7v213.48h-0.7zM349.6 42h0.7v213.48h-0.7zM352.17 42h0.7v213.48h-0.7zM354.75 42h0.7v213.48h-0.7zM357.32 42h0.7v213.48h-0.7zM359.9 42h0.7v213.48h-0.7zM362.47 42h0.7v213.48h-0.7zM365.05 42h0.7v213.48h-0.7zM367.62 42h0.7v213.48h-0.7zM370.2 42h0.7v213.48h-0.7zM372.77 42h0.7v213.48h-0.7zM375.35 42h0.7v213.48h-0.7zM377.92 42h0.7v213.48h-0.7zM380.5 42h0.7v213.48h-0.7zM383.07 42h0.7v213.48h-0.7zM385.65 42h0.7v213.48h-0.7zM388.23 42h0.7v213.48h-0.7zM390.8 42h0.7v213.48h-0.7zM393.38 42h0.7v213.48h-0.7zM395.95 42h0.7v213.48h-0.7zM398.52 42h0.7v213.48h-0.7zM401.1 42h0.7v213.48h-0.7zM403.67 42h0.7v213.48h-0.7zM406.25 42h0.7v213.48h-0.7zM408.82 42h0.7v213.48h-0.7zM411.4 42h0.7v213.48h-0.7zM413.98 42h0.7v213.48h-0.7zM416.55 42h0.7v213.48h-0.7zM419.12 42h0.7v213.48h-0.7zM421.7 42h0.7v213.48h-0.7zM424.27 42h0.7v213.48h-0.7zM426.85 42h0.7v213.48h-0.7zM429.42 42h0.7v213.48h-0.7zM432 42h0.7v213.48h-0.7zM434.57 42h0.7v213.48h-0.7zM437.15 42h0.7v213.48h-0.7zM439.73 42h0.7v213.48h-0.7zM442.3 42h0.7v213.48h-0.7zM444.88 42h0.7v213.48h-0.7zM447.45 42h0.7v213.48h-0.7zM450.02 42h0.7v213.48h-0.7zM452.6 42h0.7v213.48h-0.7zM455.17 42h0.7v213.48h-0.7zM457.75 42h0.7v213.48h-0.7zM460.32 42h0.7v213.48h-0.7zM462.9 42h0.7v213.48h-0.7zM465.48 42h0.7v213.48h-0.7zM468.05 42h0.7v213.48h-0.7zM470.62 42h0.7v213.48h-0.7zM473.2 42h0.7v213.48h-0.7zM475.77 42h0.7v213.48h-0.7zM478.35 42h0.7v213.48h-0.7zM480.92 42h0.7v213.48h-0.7zM483.5 42h0.7v213.48h-0.7z"/>
<path fill="#000000" fill-opacity="0.28" d="M256.9 42h227.3v1.5h-227.3zM256.9 48.84h227.3v1.5h-227.3zM256.9 55.68h227.3v1.5h-227.3zM256.9 62.51h227.3v1.5h-227.3zM256.9 69.35h227.3v1.5h-227.3zM256.9 76.19h227.3v1.5h-227.3zM256.9 83.03h227.3v1.5h-227.3zM256.9 89.87h227.3v1.5h-227.3zM256.9 96.7h227.3v1.5h-227.3zM256.9 103.54h227.3v1.5h-227.3zM256.9 110.38h227.3v1.5h-227.3zM256.9 117.22h227.3v1.5h-227.3zM256.9 124.06h227.3v1.5h-227.3zM256.9 130.89h227.3v1.5h-227.3zM256.9 137.73h227.3v1.5h-227.3zM256.9 144.57h227.3v1.5h-227.3zM256.9 151.41h227.3v1.5h-227.3zM256.9 158.25h227.3v1.5h-227.3zM256.9 165.08h227.3v1.5h-227.3zM256.9 171.92h227.3v1.5h-227.3zM256.9 178.76h227.3v1.5h-227.3zM256.9 185.6h227.3v1.5h-227.3zM256.9 192.44h227.3v1.5h-227.3zM256.9 199.27h227.3v1.5h-227.3zM256.9 206.11h227.3v1.5h-227.3zM256.9 212.95h227.3v1.5h-227.3zM256.9 219.79h227.3v1.5h-227.3zM256.9 226.63h227.3v1.5h-227.3zM256.9 233.46h227.3v1.5h-227.3zM256.9 240.3h227.3v1.5h-227.3zM256.9 247.14h227.3v1.5h-227.3zM256.9 253.98h227.3v1.5h-227.3z"/>
<path fill="#50101c" fill-opacity="0.6" d="M36.88 256.9h0.45v7h-0.45zM39.45 256.9h0.45v7h-0.45zM42.02 256.9h0.45v7h-0.45zM44.6 256.9h0.45v7h-0.45zM47.18 256.9h0.45v7h-0.45zM49.75 256.9h0.45v7h-0.45zM52.33 256.9h0.45v7h-0.45zM54.9 256.9h0.45v7h-0.45zM57.48 256.9h0.45v7h-0.45zM60.05 256.9h0.45v7h-0.45zM62.62 256.9h0.45v7h-0.45zM65.2 256.9h0.45v7h-0.45zM67.78 256.9h0.45v7h-0.45zM70.35 256.9h0.45v7h-0.45zM72.93 256.9h0.45v7h-0.45zM75.5 256.9h0.45v7h-0.45zM78.08 256.9h0.45v7h-0.45zM80.65 256.9h0.45v7h-0.45zM83.23 256.9h0.45v7h-0.45zM85.8 256.9h0.45v7h-0.45zM88.38 256.9h0.45v7h-0.45zM90.95 256.9h0.45v7h-0.45zM93.53 256.9h0.45v7h-0.45zM96.1 256.9h0.45v7h-0.45zM98.68 256.9h0.45v7h-0.45zM101.25 256.9h0.45v7h-0.45zM103.83 256.9h0.45v7h-0.45zM106.4 256.9h0.45v7h-0.45zM108.98 256.9h0.45v7h-0.45zM111.55 256.9h0.45v7h-0.45zM114.12 256.9h0.45v7h-0.45zM116.7 256.9h0.45v7h-0.45zM119.28 256.9h0.45v7h-0.45zM121.85 256.9h0.45v7h-0.45zM124.43 256.9h0.45v7h-0.45zM127 256.9h0.45v7h-0.45zM129.58 256.9h0.45v7h-0.45zM132.15 256.9h0.45v7h-0.45zM134.73 256.9h0.45v7h-0.45zM137.3 256.9h0.45v7h-0.45zM139.88 256.9h0.45v7h-0.45zM142.45 256.9h0.45v7h-0.45zM145.03 256.9h0.45v7h-0.45zM147.6 256.9h0.45v7h-0.45zM150.18 256.9h0.45v7h-0.45zM152.75 256.9h0.45v7h-0.45zM155.33 256.9h0.45v7h-0.45zM157.9 256.9h0.45v7h-0.45zM160.48 256.9h0.45v7h-0.45zM163.05 256.9h0.45v7h-0.45zM165.62 256.9h0.45v7h-0.45zM168.2 256.9h0.45v7h-0.45zM170.78 256.9h0.45v7h-0.45zM173.35 256.9h0.45v7h-0.45zM175.93 256.9h0.45v7h-0.45zM178.5 256.9h0.45v7h-0.45zM181.08 256.9h0.45v7h-0.45zM183.65 256.9h0.45v7h-0.45zM186.23 256.9h0.45v7h-0.45zM188.8 256.9h0.45v7h-0.45zM191.38 256.9h0.45v7h-0.45zM193.95 256.9h0.45v7h-0.45zM196.53 256.9h0.45v7h-0.45zM199.1 256.9h0.45v7h-0.45zM201.68 256.9h0.45v7h-0.45zM204.25 256.9h0.45v7h-0.45zM206.83 256.9h0.45v7h-0.45zM209.4 256.9h0.45v7h-0.45zM211.98 256.9h0.45v7h-0.45zM214.55 256.9h0.45v7h-0.45z"/>
<path fill="#50101c" fill-opacity="0.6" d="M257.02 256.9h0.45v7h-0.45zM259.6 256.9h0.45v7h-0.45zM262.17 256.9h0.45v7h-0.45zM264.75 256.9h0.45v7h-0.45zM267.32 256.9h0.45v7h-0.45zM269.9 256.9h0.45v7h-0.45zM272.47 256.9h0.45v7h-0.45zM275.05 256.9h0.45v7h-0.45zM277.62 256.9h0.45v7h-0.45zM280.2 256.9h0.45v7h-0.45zM282.77 256.9h0.45v7h-0.45zM285.35 256.9h0.45v7h-0.45zM287.92 256.9h0.45v7h-0.45zM290.5 256.9h0.45v7h-0.45zM293.07 256.9h0.45v7h-0.45zM295.65 256.9h0.45v7h-0.45zM298.22 256.9h0.45v7h-0.45zM300.8 256.9h0.45v7h-0.45zM303.38 256.9h0.45v7h-0.45zM305.95 256.9h0.45v7h-0.45zM308.52 256.9h0.45v7h-0.45zM311.1 256.9h0.45v7h-0.45zM313.67 256.9h0.45v7h-0.45zM316.25 256.9h0.45v7h-0.45zM318.82 256.9h0.45v7h-0.45zM321.4 256.9h0.45v7h-0.45zM323.97 256.9h0.45v7h-0.45zM326.55 256.9h0.45v7h-0.45zM329.12 256.9h0.45v7h-0.45zM331.7 256.9h0.45v7h-0.45zM334.27 256.9h0.45v7h-0.45zM336.85 256.9h0.45v7h-0.45zM339.42 256.9h0.45v7h-0.45zM342 256.9h0.45v7h-0.45zM344.57 256.9h0.45v7h-0.45zM347.15 256.9h0.45v7h-0.45zM349.72 256.9h0.45v7h-0.45zM352.3 256.9h0.45v7h-0.45zM354.88 256.9h0.45v7h-0.45zM357.45 256.9h0.45v7h-0.45zM360.02 256.9h0.45v7h-0.45zM362.6 256.9h0.45v7h-0.45zM365.17 256.9h0.45v7h-0.45zM367.75 256.9h0.45v7h-0.45zM370.32 256.9h0.45v7h-0.45zM372.9 256.9h0.45v7h-0.45zM375.47 256.9h0.45v7h-0.45zM378.05 256.9h0.45v7h-0.45zM380.62 256.9h0.45v7h-0.45zM383.2 256.9h0.45v7h-0.45zM385.77 256.9h0.45v7h-0.45zM388.35 256.9h0.45v7h-0.45zM390.92 256.9h0.45v7h-0.45zM393.5 256.9h0.45v7h-0.45zM396.07 256.9h0.45v7h-0.45zM398.65 256.9h0.45v7h-0.45zM401.23 256.9h0.45v7h-0.45zM403.8 256.9h0.45v7h-0.45zM406.38 256.9h0.45v7h-0.45zM408.95 256.9h0.45v7h-0.45zM411.52 256.9h0.45v7h-0.45zM414.1 256.9h0.45v7h-0.45zM416.67 256.9h0.45v7h-0.45zM419.25 256.9h0.45v7h-0.45zM421.82 256.9h0.45v7h-0.45zM424.4 256.9h0.45v7h-0.45zM426.98 256.9h0.45v7h-0.45zM429.55 256.9h0.45v7h-0.45zM432.12 256.9h0.45v7h-0.45zM434.7 256.9h0.45v7h-0.45zM437.27 256.9h0.45v7h-0.45zM439.85 256.9h0.45v7h-0.45zM442.42 256.9h0.45v7h-0.45zM445 256.9h0.45v7h-0.45zM447.57 256.9h0.45v7h-0.45zM450.15 256.9h0.45v7h-0.45zM452.73 256.9h0.45v7h-0.45zM455.3 256.9h0.45v7h-0.45zM457.88 256.9h0.45v7h-0.45zM460.45 256.9h0.45v7h-0.45zM463.02 256.9h0.45v7h-0.45zM465.6 256.9h0.45v7h-0.45zM468.17 256.9h0.45v7h-0.45zM470.75 256.9h0.45v7h-0.45zM473.32 256.9h0.45v7h-0.45zM475.9 256.9h0.45v7h-0.45zM478.48 256.9h0.45v7h-0.45zM481.05 256.9h0.45v7h-0.45zM483.62 256.9h0.45v7h-0.45z"/>
</g>
<g>
<text x="126.10" y="13.05" font-size="7.35" text-anchor="middle" font-weight="normal" font-style="normal" fill="#000">No HDT/ASCT</text>
<text x="370.60" y="13.05" font-size="7.35" text-anchor="middle" font-weight="normal" font-style="normal" fill="#000">HDT/ASCT</text>
<text x="34.40" y="23.78" font-size="5.45" text-anchor="end" font-weight="normal" font-style="normal" fill="#222222">FLIPI</text>
<text x="34.40" y="30.62" font-size="5.45" text-anchor="end" font-weight="normal" font-style="normal" fill="#222222">m7FLIPI</text>
<text x="34.40" y="37.46" font-size="5.45" text-anchor="end" font-weight="normal" font-style="normal" fill="#222222">POD24PI</text>
<text x="34.40" y="48.13" font-size="5.45" text-anchor="end" font-weight="normal" font-style="italic" fill="#222222">KMT2D</text>
<text x="238.80" y="48.23" font-size="5.55" text-anchor="middle" font-weight="normal" font-style="normal" fill="#222222">75%</text>
<text x="507.20" y="48.23" font-size="5.55" text-anchor="middle" font-weight="normal" font-style="normal" fill="#222222">84%</text>
<text x="34.40" y="54.97" font-size="5.45" text-anchor="end" font-weight="normal" font-style="italic" fill="#222222">CREBBP</text>
<text x="238.80" y="55.07" font-size="5.55" text-anchor="middle" font-weight="normal" font-style="normal" fill="#222222">77%</text>
<text x="507.20" y="55.07" font-size="5.55" text-anchor="middle" font-weight="normal" font-style="normal" fill="#222222">67%</text>
<text x="34.40" y="61.81" font-size="5.45" text-anchor="end" font-weight="normal" font-style="italic" fill="#222222">TNFRSF14</text>
<text x="238.80" y="61.91" font-size="5.55" text-anchor="middle" font-weight="normal" font-style="normal" fill="#222222">30%</text>
<text x="507.20" y="61.91" font-size="5.55" text-anchor="middle" font-weight="normal" font-style="normal" fill="#222222">24%</text>
<text x="34.40" y="68.64" font-size="5.45" text-anchor="end" font-weight="normal" font-style="italic" fill="#222222">EZH2</text>
<text x="238.80" y="68.74" font-size="5.55" text-anchor="middle" font-weight="normal" font-style="normal" fill="#222222">17%</text>
<text x="507.20" y="68.74" font-size="5.55" text-anchor="middle" font-weight="normal" font-style="normal" fill="#222222">24%</text>
<text x="34.40" y="75.48" font-size="5.45" text-anchor="end" font-weight="normal" font-style="italic" fill="#222222">CARD11</text>
<text x="238.80" y="75.58" font-size="5.55" text-anchor="middle" font-weight="normal" font-style="normal" fill="#222222">10%</text>
<text x="507.20" y="75.58" font-size="5.55" text-anchor="middle" font-weight="normal" font-style="normal" fill="#222222">18%</text>
<text x="34.40" y="82.32" font-size="5.45" text-anchor="end" font-weight="normal" font-style="italic" fill="#222222">ARID1A</text>
<text x="238.80" y="82.42" font-size="5.55" text-anchor="middle" font-weight="normal" font-style="normal" fill="#222222">12%</text>
<text x="507.20" y="82.42" font-size="5.55" text-anchor="middle" font-weight="normal" font-style="normal" fill="#222222">12%</text>
<text x="34.40" y="89.16" font-size="5.45" text-anchor="end" font-weight="normal" font-style="italic" fill="#222222">EP300</text>
<text x="238.80" y="89.26" font-size="5.55" text-anchor="middle" font-weight="normal" font-style="normal" fill="#222222">9%</text>
<text x="507.20" y="89.26" font-size="5.55" text-anchor="middle" font-weight="normal" font-style="normal" fill="#222222">14%</text>
<text x="34.40" y="96.00" font-size="5.45" text-anchor="end" font-weight="normal" font-style="italic" fill="#222222">IRF8</text>
<text x="238.80" y="96.10" font-size="5.55" text-anchor="middle" font-weight="normal" font-style="normal" fill="#222222">9%</text>
<text x="507.20" y="96.10" font-size="5.55" text-anchor="middle" font-weight="normal" font-style="normal" fill="#222222">14%</text>
<text x="34.40" y="102.84" font-size="5.45" text-anchor="end" font-weight="normal" font-style="italic" fill="#222222">STAT6</text>
<text x="238.80" y="102.94" font-size="5.55" text-anchor="middle" font-weight="normal" font-style="normal" fill="#222222">12%</text>
<text x="507.20" y="102.94" font-size="5.55" text-anchor="middle" font-weight="normal" font-style="normal" fill="#222222">11%</text>
<text x="34.40" y="109.67" font-size="5.45" text-anchor="end" font-weight="normal" font-style="italic" fill="#222222">BCL7A</text>
<text x="238.80" y="109.77" font-size="5.55" text-anchor="middle" font-weight="normal" font-style="normal" fill="#222222">10%</text>
<text x="507.20" y="109.77" font-size="5.55" text-anchor="middle" font-weight="normal" font-style="normal" fill="#222222">11%</text>
<text x="34.40" y="116.51" font-size="5.45" text-anchor="end" font-weight="normal" font-style="italic" fill="#222222">FOXO1</text>
<text x="238.80" y="116.61" font-size="5.55" text-anchor="middle" font-weight="normal" font-style="normal" fill="#222222">7%</text>
<text x="507.20" y="116.61" font-size="5.55" text-anchor="middle" font-weight="normal" font-style="normal" fill="#222222">10%</text>
<text x="34.40" y="123.35" font-size="5.45" text-anchor="end" font-weight="normal" font-style="italic" fill="#222222">PIM1</text>
<text x="238.80" y="123.45" font-size="5.55" text-anchor="middle" font-weight="normal" font-style="normal" fill="#222222">7%</text>
<text x="507.20" y="123.45" font-size="5.55" text-anchor="middle" font-weight="normal" font-style="normal" fill="#222222">8%</text>
<text x="34.40" y="130.19" font-size="5.45" text-anchor="end" font-weight="normal" font-style="italic" fill="#222222">CTSS</text>
<text x="238.80" y="130.29" font-size="5.55" text-anchor="middle" font-weight="normal" font-style="normal" fill="#222222">7%</text>
<text x="507.20" y="130.29" font-size="5.55" text-anchor="middle" font-weight="normal" font-style="normal" fill="#222222">6%</text>
<text x="34.40" y="137.03" font-size="5.45" text-anchor="end" font-weight="normal" font-style="italic" fill="#222222">IKZF3</text>
<text x="238.80" y="137.12" font-size="5.55" text-anchor="middle" font-weight="normal" font-style="normal" fill="#222222">6%</text>
<text x="507.20" y="137.12" font-size="5.55" text-anchor="middle" font-weight="normal" font-style="normal" fill="#222222">6%</text>
<text x="34.40" y="143.86" font-size="5.45" text-anchor="end" font-weight="normal" font-style="italic" fill="#222222">BTG2</text>
<text x="238.80" y="143.96" font-size="5.55" text-anchor="middle" font-weight="normal" font-style="normal" fill="#222222">6%</text>
<text x="507.20" y="143.96" font-size="5.55" text-anchor="middle" font-weight="normal" font-style="normal" fill="#222222">5%</text>
<text x="34.40" y="150.70" font-size="5.45" text-anchor="end" font-weight="normal" font-style="italic" fill="#222222">GNA13</text>
<text x="238.80" y="150.80" font-size="5.55" text-anchor="middle" font-weight="normal" font-style="normal" fill="#222222">6%</text>
<text x="507.20" y="150.80" font-size="5.55" text-anchor="middle" font-weight="normal" font-style="normal" fill="#222222">5%</text>
<text x="34.40" y="157.54" font-size="5.45" text-anchor="end" font-weight="normal" font-style="italic" fill="#222222">CD79A</text>
<text x="238.80" y="157.64" font-size="5.55" text-anchor="middle" font-weight="normal" font-style="normal" fill="#222222">6%</text>
<text x="507.20" y="157.64" font-size="5.55" text-anchor="middle" font-weight="normal" font-style="normal" fill="#222222">3%</text>
<text x="34.40" y="164.38" font-size="5.45" text-anchor="end" font-weight="normal" font-style="italic" fill="#222222">CIITA</text>
<text x="238.80" y="164.48" font-size="5.55" text-anchor="middle" font-weight="normal" font-style="normal" fill="#222222">9%</text>
<text x="507.20" y="164.48" font-size="5.55" text-anchor="middle" font-weight="normal" font-style="normal" fill="#222222">1%</text>
<text x="34.40" y="171.22" font-size="5.45" text-anchor="end" font-weight="normal" font-style="italic" fill="#222222">PAX5</text>
<text x="238.80" y="171.31" font-size="5.55" text-anchor="middle" font-weight="normal" font-style="normal" fill="#222222">3%</text>
<text x="507.20" y="171.31" font-size="5.55" text-anchor="middle" font-weight="normal" font-style="normal" fill="#222222">6%</text>
<text x="34.40" y="178.05" font-size="5.45" text-anchor="end" font-weight="normal" font-style="italic" fill="#222222">BTG1</text>
<text x="238.80" y="178.15" font-size="5.55" text-anchor="middle" font-weight="normal" font-style="normal" fill="#222222">4%</text>
<text x="507.20" y="178.15" font-size="5.55" text-anchor="middle" font-weight="normal" font-style="normal" fill="#222222">3%</text>
<text x="34.40" y="184.89" font-size="5.45" text-anchor="end" font-weight="normal" font-style="italic" fill="#222222">CXCR4</text>
<text x="238.80" y="184.99" font-size="5.55" text-anchor="middle" font-weight="normal" font-style="normal" fill="#222222">3%</text>
<text x="507.20" y="184.99" font-size="5.55" text-anchor="middle" font-weight="normal" font-style="normal" fill="#222222">5%</text>
<text x="34.40" y="191.73" font-size="5.45" text-anchor="end" font-weight="normal" font-style="italic" fill="#222222">KLHL6</text>
<text x="238.80" y="191.83" font-size="5.55" text-anchor="middle" font-weight="normal" font-style="normal" fill="#222222">3%</text>
<text x="507.20" y="191.83" font-size="5.55" text-anchor="middle" font-weight="normal" font-style="normal" fill="#222222">5%</text>
<text x="34.40" y="198.57" font-size="5.45" text-anchor="end" font-weight="normal" font-style="italic" fill="#222222">MEF2B</text>
<text x="238.80" y="198.67" font-size="5.55" text-anchor="middle" font-weight="normal" font-style="normal" fill="#222222">4%</text>
<text x="507.20" y="198.67" font-size="5.55" text-anchor="middle" font-weight="normal" font-style="normal" fill="#222222">3%</text>
<text x="34.40" y="205.41" font-size="5.45" text-anchor="end" font-weight="normal" font-style="italic" fill="#222222">TNFAIP3</text>
<text x="238.80" y="205.50" font-size="5.55" text-anchor="middle" font-weight="normal" font-style="normal" fill="#222222">3%</text>
<text x="507.20" y="205.50" font-size="5.55" text-anchor="middle" font-weight="normal" font-style="normal" fill="#222222">5%</text>
<text x="34.40" y="212.24" font-size="5.45" text-anchor="end" font-weight="normal" font-style="italic" fill="#222222">CD79B</text>
<text x="238.80" y="212.34" font-size="5.55" text-anchor="middle" font-weight="normal" font-style="normal" fill="#222222">4%</text>
<text x="507.20" y="212.34" font-size="5.55" text-anchor="middle" font-weight="normal" font-style="normal" fill="#222222">2%</text>
<text x="34.40" y="219.08" font-size="5.45" text-anchor="end" font-weight="normal" font-style="italic" fill="#222222">EPHA7</text>
<text x="238.80" y="219.18" font-size="5.55" text-anchor="middle" font-weight="normal" font-style="normal" fill="#222222">4%</text>
<text x="507.20" y="219.18" font-size="5.55" text-anchor="middle" font-weight="normal" font-style="normal" fill="#222222">2%</text>
<text x="34.40" y="225.92" font-size="5.45" text-anchor="end" font-weight="normal" font-style="italic" fill="#222222">SGK1</text>
<text x="238.80" y="226.02" font-size="5.55" text-anchor="middle" font-weight="normal" font-style="normal" fill="#222222">3%</text>
<text x="507.20" y="226.02" font-size="5.55" text-anchor="middle" font-weight="normal" font-style="normal" fill="#222222">3%</text>
<text x="34.40" y="232.76" font-size="5.45" text-anchor="end" font-weight="normal" font-style="italic" fill="#222222">ARID1B</text>
<text x="238.80" y="232.86" font-size="5.55" text-anchor="middle" font-weight="normal" font-style="normal" fill="#222222">3%</text>
<text x="507.20" y="232.86" font-size="5.55" text-anchor="middle" font-weight="normal" font-style="normal" fill="#222222">2%</text>
<text x="34.40" y="239.59" font-size="5.45" text-anchor="end" font-weight="normal" font-style="italic" fill="#222222">B2M</text>
<text x="238.80" y="239.69" font-size="5.55" text-anchor="middle" font-weight="normal" font-style="normal" fill="#222222">3%</text>
<text x="507.20" y="239.69" font-size="5.55" text-anchor="middle" font-weight="normal" font-style="normal" fill="#222222">2%</text>
<text x="34.40" y="246.43" font-size="5.45" text-anchor="end" font-weight="normal" font-style="italic" fill="#222222">CCND3</text>
<text x="238.80" y="246.53" font-size="5.55" text-anchor="middle" font-weight="normal" font-style="normal" fill="#222222">1%</text>
<text x="507.20" y="246.53" font-size="5.55" text-anchor="middle" font-weight="normal" font-style="normal" fill="#222222">3%</text>
<text x="34.40" y="253.27" font-size="5.45" text-anchor="end" font-weight="normal" font-style="italic" fill="#222222">TP53</text>
<text x="238.80" y="253.37" font-size="5.55" text-anchor="middle" font-weight="normal" font-style="normal" fill="#222222">3%</text>
<text x="507.20" y="253.37" font-size="5.55" text-anchor="middle" font-weight="normal" font-style="normal" fill="#222222">2%</text>
<text x="34.40" y="262.36" font-size="5.45" text-anchor="end" font-weight="normal" font-style="italic" fill="#222222">BCL2</text>
<text transform="translate(218.00,39.6) rotate(-90)" font-size="3.2" fill="#6a6a6a" stroke="none">0</text>
<text transform="translate(222.75,39.6) rotate(-90)" font-size="3.2" fill="#6a6a6a" stroke="none">20</text>
<text transform="translate(227.50,39.6) rotate(-90)" font-size="3.2" fill="#6a6a6a" stroke="none">40</text>
<text transform="translate(232.25,39.6) rotate(-90)" font-size="3.2" fill="#6a6a6a" stroke="none">60</text>
<text transform="translate(486.70,39.6) rotate(-90)" font-size="3.2" fill="#6a6a6a" stroke="none">0</text>
<text transform="translate(490.25,39.6) rotate(-90)" font-size="3.2" fill="#6a6a6a" stroke="none">20</text>
<text transform="translate(493.80,39.6) rotate(-90)" font-size="3.2" fill="#6a6a6a" stroke="none">40</text>
<text transform="translate(497.35,39.6) rotate(-90)" font-size="3.2" fill="#6a6a6a" stroke="none">60</text>
<text x="45.00" y="278.30" font-size="5.5" text-anchor="start" font-weight="bold" font-style="normal" fill="#111">Top annotation</text>
<text x="45.00" y="285.90" font-size="5.5" text-anchor="start" font-weight="bold" font-style="normal" fill="#111">FLIPI</text>
<text x="77.20" y="285.90" font-size="5.5" text-anchor="start" font-weight="bold" font-style="normal" fill="#111">m7-FLIPI</text>
<text x="110.20" y="285.90" font-size="5.5" text-anchor="start" font-weight="bold" font-style="normal" fill="#111">POD24-PI</text>
<text x="53.00" y="292.20" font-size="5.1" text-anchor="start" font-weight="normal" font-style="normal" fill="#3a3a3a">low/int</text>
<text x="53.00" y="298.60" font-size="5.1" text-anchor="start" font-weight="normal" font-style="normal" fill="#3a3a3a">high</text>
<text x="85.20" y="292.20" font-size="5.1" text-anchor="start" font-weight="normal" font-style="normal" fill="#3a3a3a">low</text>
<text x="85.20" y="298.60" font-size="5.1" text-anchor="start" font-weight="normal" font-style="normal" fill="#3a3a3a">high</text>
<text x="118.20" y="292.20" font-size="5.1" text-anchor="start" font-weight="normal" font-style="normal" fill="#3a3a3a">low</text>
<text x="118.20" y="298.60" font-size="5.1" text-anchor="start" font-weight="normal" font-style="normal" fill="#3a3a3a">high</text>
<text x="151.20" y="278.30" font-size="5.5" text-anchor="start" font-weight="bold" font-style="normal" fill="#111">Variant type</text>
<text x="159.20" y="286.00" font-size="5.1" text-anchor="start" font-weight="normal" font-style="normal" fill="#3a3a3a">missense</text>
<text x="159.20" y="292.20" font-size="5.1" text-anchor="start" font-weight="normal" font-style="normal" fill="#3a3a3a">nonstop</text>
<text x="159.20" y="298.60" font-size="5.1" text-anchor="start" font-weight="normal" font-style="normal" fill="#3a3a3a">splicesite</text>
<text x="199.30" y="286.00" font-size="5.1" text-anchor="start" font-weight="normal" font-style="normal" fill="#3a3a3a">startsite</text>
<text x="199.30" y="292.20" font-size="5.1" text-anchor="start" font-weight="normal" font-style="normal" fill="#3a3a3a">nonsense</text>
<text x="199.30" y="298.60" font-size="5.1" text-anchor="start" font-weight="normal" font-style="normal" fill="#3a3a3a">frameshift</text>
<text x="231.20" y="278.30" font-size="5.5" text-anchor="start" font-weight="bold" font-style="normal" fill="#111">Bottom annotation</text>
<text x="231.20" y="285.90" font-size="5.5" text-anchor="start" font-weight="bold" font-style="normal" fill="#111">BCL2 status</text>
<text x="239.30" y="292.20" font-size="5.1" text-anchor="start" font-weight="normal" font-style="normal" fill="#3a3a3a">unmutated</text>
<text x="239.30" y="298.60" font-size="5.1" text-anchor="start" font-weight="normal" font-style="normal" fill="#3a3a3a">hypermutated</text>
</g>
</svg>
<div id="frame"></div>
</div>
</body>
</html>
